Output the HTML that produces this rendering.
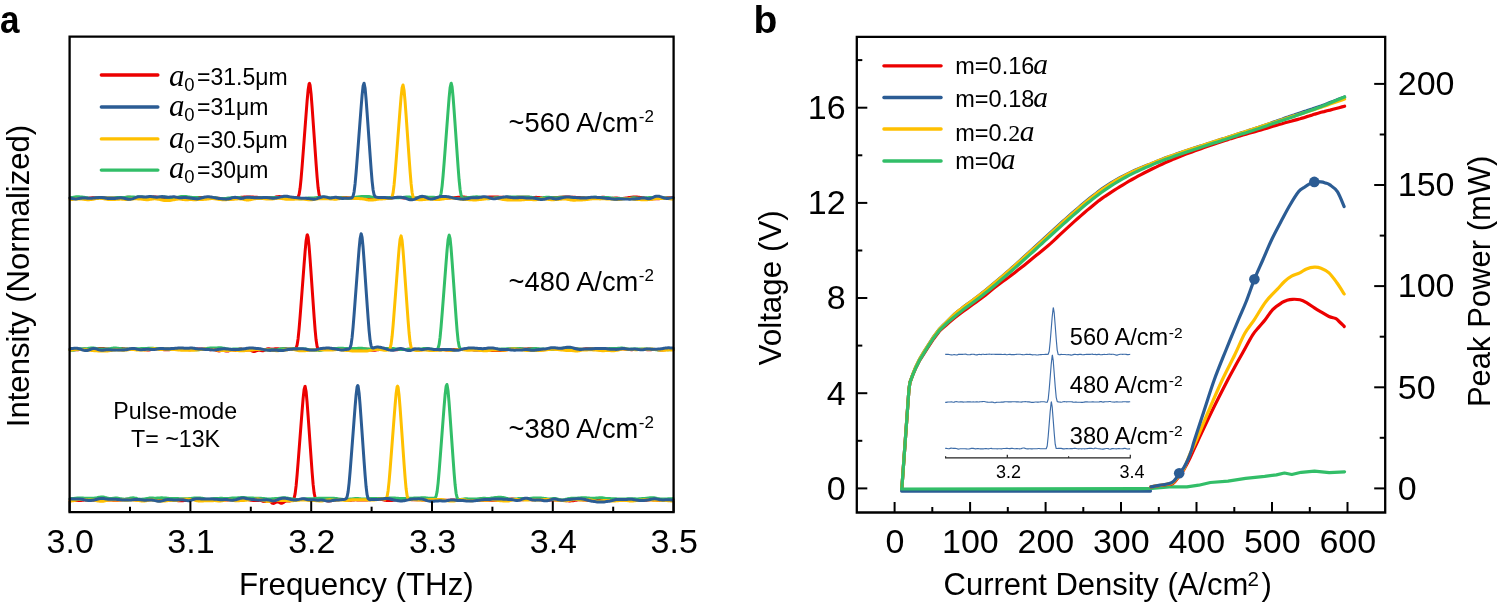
<!DOCTYPE html>
<html><head><meta charset="utf-8"><style>
html,body{margin:0;padding:0;background:#fff;}
body{width:1500px;height:605px;overflow:hidden;position:relative;}
svg text{font-family:"Liberation Sans",sans-serif;fill:#000;}
svg .si{font-family:"Liberation Serif",serif;font-style:italic;}
svg .sr{font-family:"Liberation Serif",serif;}
svg{will-change:transform;}
</style></head><body>
<svg width="1500" height="605" viewBox="0 0 1500 605" style="position:absolute;left:0;top:0">
<rect width="1500" height="605" fill="#fff"/>
<polyline points="70.1,197.9 71.1,197.9 72.1,197.9 73.1,198.0 74.1,198.0 75.1,198.1 76.1,198.2 77.1,198.3 78.1,198.3 79.1,198.4 80.1,198.4 81.1,198.4 82.1,198.4 83.1,198.4 84.1,198.4 85.1,198.4 86.1,198.4 87.1,198.3 88.1,198.3 89.1,198.2 90.1,198.0 91.1,197.9 92.1,197.8 93.1,197.8 94.1,197.7 95.1,197.7 96.1,197.7 97.1,197.7 98.1,197.6 99.1,197.6 100.1,197.6 101.1,197.7 102.1,197.7 103.1,197.8 104.1,198.0 105.1,198.0 106.1,198.1 107.1,198.1 108.1,198.1 109.1,198.1 110.1,198.1 111.1,198.0 112.1,197.9 113.1,197.9 114.1,197.9 115.1,198.0 116.1,198.0 117.1,198.1 118.1,198.2 119.1,198.3 120.1,198.3 121.1,198.3 122.1,198.2 123.1,198.1 124.1,197.9 125.1,197.7 126.1,197.5 127.1,197.3 128.1,197.2 129.1,197.2 130.1,197.3 131.1,197.4 132.1,197.6 133.1,197.8 134.1,197.9 135.1,198.0 136.1,198.0 137.1,198.1 138.1,198.1 139.1,198.0 140.1,198.0 141.1,197.9 142.1,197.9 143.1,197.8 144.1,197.8 145.1,197.7 146.1,197.7 147.1,197.7 148.1,197.6 149.1,197.6 150.1,197.5 151.1,197.3 152.1,197.2 153.1,197.1 154.1,197.0 155.1,197.0 156.1,197.1 157.1,197.2 158.1,197.3 159.1,197.5 160.1,197.7 161.1,197.8 162.1,198.0 163.1,198.1 164.1,198.1 165.1,198.1 166.1,198.1 167.1,198.0 168.1,198.0 169.1,197.9 170.1,197.8 171.1,197.7 172.1,197.7 173.1,197.7 174.1,197.7 175.1,197.7 176.1,197.8 177.1,197.8 178.1,197.8 179.1,197.8 180.1,197.7 181.1,197.6 182.1,197.6 183.1,197.5 184.1,197.5 185.1,197.5 186.1,197.5 187.1,197.5 188.1,197.6 189.1,197.6 190.1,197.6 191.1,197.6 192.1,197.6 193.1,197.5 194.1,197.5 195.1,197.5 196.1,197.5 197.1,197.5 198.1,197.5 199.1,197.5 200.1,197.5 201.1,197.5 202.1,197.5 203.1,197.5 204.1,197.6 205.1,197.6 206.1,197.7 207.1,197.7 208.1,197.8 209.1,197.8 210.1,197.9 211.1,198.0 212.1,198.0 213.1,198.1 214.1,198.2 215.1,198.2 216.1,198.3 217.1,198.3 218.1,198.3 219.1,198.3 220.1,198.4 221.1,198.5 222.1,198.5 223.1,198.6 224.1,198.7 225.1,198.8 226.1,198.8 227.1,198.8 228.1,198.8 229.1,198.8 230.1,198.8 231.1,198.8 232.1,198.8 233.1,198.7 234.1,198.6 235.1,198.4 236.1,198.2 237.1,198.0 238.1,197.8 239.1,197.6 240.1,197.4 241.1,197.3 242.1,197.2 243.1,197.2 244.1,197.1 245.1,197.1 246.1,197.1 247.1,197.1 248.1,197.0 249.1,197.0 250.1,197.0 251.1,197.0 252.1,197.1 253.1,197.1 254.1,197.2 255.1,197.2 256.1,197.2 257.1,197.3 258.1,197.4 259.1,197.5 260.1,197.6 261.1,197.8 262.1,197.9 263.1,198.0 264.1,198.1 265.1,198.1 266.1,198.0 267.1,198.0 268.1,197.9 269.1,197.8 270.1,197.8 271.1,197.8 272.1,197.7 273.1,197.6 274.1,197.5 275.1,197.3 276.1,197.0 277.1,196.8 278.1,196.7 279.1,196.6 280.1,196.6 281.1,196.8 282.1,197.0 283.1,197.2 284.1,197.4 285.1,197.7 286.1,197.8 287.1,198.0 288.1,198.1 289.1,198.2 290.1,198.2 291.1,198.2 292.1,198.2 293.1,198.1 294.1,198.0 295.1,198.0 296.1,197.9 297.1,197.8 298.1,197.0 299.1,194.4 300.1,188.3 301.1,178.5 302.1,166.5 303.1,153.5 304.1,140.4 305.1,127.2 306.1,114.0 307.1,101.2 308.1,90.1 309.1,83.8 309.5,83.4 310.1,85.3 311.1,94.1 312.1,107.0 313.1,121.1 314.1,135.4 315.1,149.7 316.1,163.8 317.1,177.0 318.1,187.8 319.1,194.5 320.1,197.5 321.1,198.4 322.1,198.5 323.1,198.6 324.1,198.6 325.1,198.5 326.1,198.5 327.1,198.5 328.1,198.4 329.1,198.4 330.1,198.4 331.1,198.4 332.1,198.3 333.1,198.3 334.1,198.2 335.1,198.1 336.1,198.1 337.1,198.0 338.1,197.9 339.1,197.8 340.1,197.8 341.1,197.7 342.1,197.6 343.1,197.6 344.1,197.6 345.1,197.6 346.1,197.6 347.1,197.7 348.1,197.8 349.1,197.9 350.1,198.0 351.1,198.1 352.1,198.1 353.1,198.1 354.1,198.1 355.1,198.1 356.1,198.1 357.1,198.1 358.1,198.0 359.1,198.0 360.1,197.9 361.1,197.8 362.1,197.8 363.1,197.9 364.1,198.0 365.1,198.1 366.1,198.3 367.1,198.5 368.1,198.6 369.1,198.7 370.1,198.7 371.1,198.6 372.1,198.5 373.1,198.4 374.1,198.2 375.1,198.1 376.1,198.0 377.1,198.0 378.1,197.9 379.1,197.9 380.1,197.9 381.1,197.9 382.1,197.9 383.1,198.0 384.1,198.1 385.1,198.2 386.1,198.2 387.1,198.3 388.1,198.3 389.1,198.3 390.1,198.2 391.1,198.1 392.1,197.9 393.1,197.7 394.1,197.6 395.1,197.5 396.1,197.4 397.1,197.4 398.1,197.5 399.1,197.5 400.1,197.6 401.1,197.8 402.1,197.8 403.1,197.9 404.1,197.9 405.1,197.9 406.1,197.8 407.1,197.7 408.1,197.7 409.1,197.7 410.1,197.8 411.1,197.9 412.1,198.0 413.1,198.1 414.1,198.2 415.1,198.2 416.1,198.1 417.1,198.0 418.1,197.9 419.1,197.7 420.1,197.6 421.1,197.5 422.1,197.5 423.1,197.5 424.1,197.6 425.1,197.6 426.1,197.7 427.1,197.7 428.1,197.7 429.1,197.8 430.1,197.8 431.1,197.8 432.1,197.9 433.1,197.9 434.1,197.9 435.1,197.9 436.1,198.0 437.1,198.1 438.1,198.2 439.1,198.2 440.1,198.3 441.1,198.4 442.1,198.4 443.1,198.5 444.1,198.5 445.1,198.4 446.1,198.4 447.1,198.3 448.1,198.1 449.1,198.0 450.1,197.9 451.1,197.8 452.1,197.8 453.1,197.7 454.1,197.7 455.1,197.6 456.1,197.5 457.1,197.4 458.1,197.3 459.1,197.3 460.1,197.2 461.1,197.1 462.1,197.1 463.1,197.1 464.1,197.1 465.1,197.2 466.1,197.3 467.1,197.4 468.1,197.5 469.1,197.6 470.1,197.7 471.1,197.8 472.1,197.9 473.1,197.9 474.1,198.0 475.1,198.0 476.1,198.0 477.1,198.0 478.1,197.9 479.1,197.9 480.1,197.9 481.1,197.8 482.1,197.8 483.1,197.7 484.1,197.7 485.1,197.6 486.1,197.5 487.1,197.3 488.1,197.2 489.1,197.1 490.1,197.1 491.1,197.0 492.1,197.0 493.1,197.0 494.1,197.0 495.1,197.0 496.1,197.0 497.1,197.1 498.1,197.1 499.1,197.2 500.1,197.2 501.1,197.3 502.1,197.3 503.1,197.3 504.1,197.4 505.1,197.5 506.1,197.6 507.1,197.7 508.1,197.8 509.1,197.9 510.1,197.9 511.1,197.9 512.1,197.8 513.1,197.7 514.1,197.6 515.1,197.5 516.1,197.4 517.1,197.3 518.1,197.3 519.1,197.3 520.1,197.3 521.1,197.3 522.1,197.3 523.1,197.3 524.1,197.2 525.1,197.3 526.1,197.3 527.1,197.3 528.1,197.3 529.1,197.3 530.1,197.4 531.1,197.4 532.1,197.4 533.1,197.4 534.1,197.4 535.1,197.4 536.1,197.3 537.1,197.4 538.1,197.4 539.1,197.5 540.1,197.7 541.1,197.8 542.1,198.0 543.1,198.1 544.1,198.2 545.1,198.1 546.1,198.1 547.1,198.0 548.1,197.8 549.1,197.7 550.1,197.6 551.1,197.6 552.1,197.6 553.1,197.6 554.1,197.6 555.1,197.5 556.1,197.5 557.1,197.4 558.1,197.4 559.1,197.3 560.1,197.3 561.1,197.2 562.1,197.2 563.1,197.1 564.1,197.0 565.1,197.0 566.1,197.0 567.1,197.0 568.1,197.0 569.1,197.1 570.1,197.2 571.1,197.2 572.1,197.2 573.1,197.3 574.1,197.3 575.1,197.3 576.1,197.4 577.1,197.4 578.1,197.5 579.1,197.5 580.1,197.6 581.1,197.7 582.1,197.7 583.1,197.8 584.1,197.8 585.1,197.9 586.1,197.9 587.1,198.0 588.1,198.0 589.1,198.1 590.1,198.1 591.1,198.1 592.1,198.2 593.1,198.2 594.1,198.2 595.1,198.2 596.1,198.1 597.1,198.0 598.1,197.9 599.1,197.7 600.1,197.5 601.1,197.4 602.1,197.3 603.1,197.2 604.1,197.3 605.1,197.4 606.1,197.7 607.1,197.9 608.1,198.1 609.1,198.3 610.1,198.4 611.1,198.4 612.1,198.3 613.1,198.2 614.1,198.2 615.1,198.1 616.1,198.1 617.1,198.1 618.1,198.2 619.1,198.3 620.1,198.4 621.1,198.4 622.1,198.4 623.1,198.4 624.1,198.3 625.1,198.2 626.1,198.0 627.1,197.9 628.1,197.7 629.1,197.5 630.1,197.4 631.1,197.3 632.1,197.2 633.1,197.1 634.1,197.0 635.1,197.0 636.1,197.0 637.1,197.1 638.1,197.2 639.1,197.3 640.1,197.5 641.1,197.6 642.1,197.7 643.1,197.8 644.1,198.0 645.1,198.2 646.1,198.4 647.1,198.5 648.1,198.7 649.1,198.8 650.1,198.9 651.1,198.9 652.1,198.9 653.1,198.8 654.1,198.8 655.1,198.8 656.1,198.8 657.1,198.8 658.1,198.8 659.1,198.7 660.1,198.6 661.1,198.6 662.1,198.5 663.1,198.3 664.1,198.2 665.1,198.1 666.1,198.0 667.1,197.8 668.1,197.8 669.1,197.7 670.1,197.7 671.1,197.7 672.1,197.8 673.1,197.9" fill="none" stroke="#ec0000" stroke-width="3" stroke-linejoin="round" stroke-linecap="round"/>
<polyline points="70.1,197.6 71.1,197.6 72.1,197.4 73.1,197.3 74.1,197.1 75.1,196.9 76.1,196.8 77.1,196.8 78.1,196.8 79.1,196.8 80.1,196.9 81.1,197.0 82.1,197.1 83.1,197.2 84.1,197.3 85.1,197.4 86.1,197.6 87.1,197.8 88.1,198.1 89.1,198.3 90.1,198.4 91.1,198.5 92.1,198.5 93.1,198.4 94.1,198.3 95.1,198.1 96.1,198.0 97.1,197.8 98.1,197.7 99.1,197.7 100.1,197.7 101.1,197.7 102.1,197.8 103.1,197.9 104.1,197.9 105.1,198.0 106.1,198.0 107.1,198.0 108.1,198.0 109.1,198.0 110.1,198.0 111.1,198.0 112.1,198.0 113.1,197.9 114.1,197.9 115.1,197.8 116.1,197.7 117.1,197.6 118.1,197.6 119.1,197.6 120.1,197.6 121.1,197.6 122.1,197.6 123.1,197.6 124.1,197.6 125.1,197.5 126.1,197.3 127.1,197.2 128.1,197.0 129.1,196.9 130.1,196.9 131.1,196.9 132.1,196.9 133.1,197.0 134.1,197.1 135.1,197.2 136.1,197.2 137.1,197.1 138.1,197.1 139.1,197.0 140.1,196.9 141.1,196.9 142.1,196.9 143.1,197.0 144.1,197.2 145.1,197.4 146.1,197.6 147.1,197.8 148.1,197.9 149.1,198.0 150.1,198.1 151.1,198.1 152.1,198.0 153.1,197.9 154.1,197.8 155.1,197.7 156.1,197.5 157.1,197.5 158.1,197.4 159.1,197.3 160.1,197.2 161.1,197.2 162.1,197.1 163.1,197.1 164.1,197.1 165.1,197.1 166.1,197.2 167.1,197.3 168.1,197.5 169.1,197.6 170.1,197.7 171.1,197.8 172.1,197.9 173.1,197.8 174.1,197.7 175.1,197.6 176.1,197.4 177.1,197.3 178.1,197.1 179.1,196.9 180.1,196.7 181.1,196.6 182.1,196.5 183.1,196.5 184.1,196.4 185.1,196.5 186.1,196.6 187.1,196.7 188.1,196.9 189.1,197.0 190.1,197.2 191.1,197.3 192.1,197.4 193.1,197.4 194.1,197.5 195.1,197.5 196.1,197.5 197.1,197.6 198.1,197.7 199.1,197.9 200.1,198.0 201.1,198.1 202.1,198.2 203.1,198.3 204.1,198.3 205.1,198.3 206.1,198.3 207.1,198.3 208.1,198.2 209.1,198.0 210.1,197.9 211.1,197.8 212.1,197.7 213.1,197.7 214.1,197.8 215.1,197.8 216.1,198.0 217.1,198.1 218.1,198.2 219.1,198.4 220.1,198.5 221.1,198.6 222.1,198.6 223.1,198.6 224.1,198.5 225.1,198.5 226.1,198.4 227.1,198.2 228.1,198.1 229.1,198.0 230.1,197.9 231.1,197.8 232.1,197.7 233.1,197.6 234.1,197.6 235.1,197.5 236.1,197.5 237.1,197.5 238.1,197.5 239.1,197.5 240.1,197.6 241.1,197.7 242.1,197.9 243.1,198.1 244.1,198.3 245.1,198.4 246.1,198.6 247.1,198.7 248.1,198.7 249.1,198.6 250.1,198.6 251.1,198.5 252.1,198.4 253.1,198.3 254.1,198.3 255.1,198.2 256.1,198.2 257.1,198.1 258.1,198.0 259.1,198.0 260.1,197.9 261.1,197.8 262.1,197.7 263.1,197.7 264.1,197.7 265.1,197.7 266.1,197.8 267.1,197.8 268.1,197.8 269.1,197.8 270.1,197.8 271.1,197.7 272.1,197.7 273.1,197.6 274.1,197.6 275.1,197.6 276.1,197.6 277.1,197.6 278.1,197.6 279.1,197.7 280.1,197.7 281.1,197.8 282.1,197.9 283.1,197.9 284.1,197.9 285.1,197.9 286.1,197.9 287.1,197.8 288.1,197.7 289.1,197.6 290.1,197.6 291.1,197.6 292.1,197.6 293.1,197.7 294.1,197.9 295.1,198.0 296.1,198.2 297.1,198.4 298.1,198.6 299.1,198.7 300.1,198.7 301.1,198.7 302.1,198.7 303.1,198.6 304.1,198.5 305.1,198.4 306.1,198.3 307.1,198.2 308.1,198.1 309.1,198.1 310.1,198.1 311.1,198.1 312.1,198.1 313.1,198.0 314.1,197.9 315.1,197.8 316.1,197.7 317.1,197.6 318.1,197.5 319.1,197.4 320.1,197.3 321.1,197.2 322.1,197.2 323.1,197.2 324.1,197.2 325.1,197.2 326.1,197.3 327.1,197.5 328.1,197.7 329.1,197.8 330.1,198.0 331.1,198.0 332.1,198.1 333.1,198.1 334.1,198.0 335.1,198.0 336.1,197.9 337.1,197.8 338.1,197.8 339.1,197.7 340.1,197.7 341.1,197.7 342.1,197.8 343.1,197.9 344.1,198.0 345.1,198.1 346.1,198.2 347.1,198.4 348.1,198.4 349.1,198.5 350.1,198.4 351.1,198.3 352.1,198.1 353.1,197.9 354.1,197.7 355.1,197.5 356.1,197.2 357.1,197.0 358.1,196.9 359.1,196.8 360.1,196.7 361.1,196.6 362.1,196.6 363.1,196.6 364.1,196.5 365.1,196.5 366.1,196.4 367.1,196.4 368.1,196.5 369.1,196.6 370.1,196.7 371.1,196.9 372.1,197.1 373.1,197.3 374.1,197.4 375.1,197.6 376.1,197.8 377.1,197.9 378.1,198.0 379.1,198.0 380.1,198.1 381.1,198.0 382.1,198.0 383.1,198.0 384.1,197.9 385.1,197.9 386.1,197.8 387.1,197.7 388.1,197.7 389.1,197.6 390.1,197.5 391.1,197.5 392.1,197.5 393.1,197.6 394.1,197.6 395.1,197.7 396.1,197.7 397.1,197.8 398.1,197.7 399.1,197.7 400.1,197.6 401.1,197.6 402.1,197.5 403.1,197.4 404.1,197.3 405.1,197.2 406.1,197.1 407.1,197.0 408.1,197.0 409.1,197.0 410.1,197.1 411.1,197.3 412.1,197.6 413.1,197.8 414.1,197.9 415.1,198.0 416.1,198.0 417.1,197.9 418.1,197.7 419.1,197.5 420.1,197.3 421.1,197.2 422.1,197.0 423.1,197.0 424.1,196.9 425.1,197.0 426.1,197.0 427.1,197.1 428.1,197.2 429.1,197.3 430.1,197.3 431.1,197.3 432.1,197.3 433.1,197.3 434.1,197.3 435.1,197.4 436.1,197.5 437.1,197.6 438.1,197.8 439.1,197.7 440.1,196.7 441.1,193.3 442.1,186.1 443.1,175.5 444.1,163.1 445.1,150.1 446.1,136.9 447.1,123.7 448.1,110.5 449.1,97.9 450.1,87.7 451.1,83.4 451.2,83.2 452.1,86.9 453.1,97.1 454.1,110.4 455.1,124.5 456.1,138.9 457.1,153.2 458.1,167.2 459.1,180.0 460.1,189.7 461.1,195.2 462.1,197.3 463.1,197.8 464.1,197.9 465.1,197.8 466.1,197.8 467.1,197.7 468.1,197.6 469.1,197.5 470.1,197.4 471.1,197.3 472.1,197.2 473.1,197.1 474.1,197.0 475.1,196.9 476.1,196.8 477.1,196.8 478.1,196.9 479.1,197.0 480.1,197.1 481.1,197.3 482.1,197.5 483.1,197.8 484.1,198.0 485.1,198.3 486.1,198.5 487.1,198.6 488.1,198.7 489.1,198.7 490.1,198.6 491.1,198.5 492.1,198.3 493.1,198.1 494.1,197.9 495.1,197.8 496.1,197.7 497.1,197.7 498.1,197.7 499.1,197.8 500.1,197.8 501.1,197.8 502.1,197.8 503.1,197.7 504.1,197.6 505.1,197.5 506.1,197.3 507.1,197.2 508.1,197.1 509.1,197.1 510.1,197.1 511.1,197.1 512.1,197.1 513.1,197.1 514.1,197.1 515.1,197.1 516.1,197.0 517.1,197.0 518.1,196.9 519.1,196.9 520.1,196.9 521.1,196.9 522.1,197.0 523.1,197.0 524.1,197.0 525.1,197.0 526.1,197.0 527.1,197.0 528.1,197.0 529.1,197.1 530.1,197.2 531.1,197.3 532.1,197.5 533.1,197.7 534.1,198.0 535.1,198.2 536.1,198.3 537.1,198.5 538.1,198.5 539.1,198.5 540.1,198.4 541.1,198.2 542.1,198.0 543.1,197.8 544.1,197.5 545.1,197.4 546.1,197.3 547.1,197.2 548.1,197.2 549.1,197.3 550.1,197.4 551.1,197.5 552.1,197.6 553.1,197.7 554.1,197.8 555.1,197.8 556.1,197.8 557.1,197.7 558.1,197.7 559.1,197.6 560.1,197.4 561.1,197.3 562.1,197.2 563.1,197.2 564.1,197.2 565.1,197.3 566.1,197.4 567.1,197.5 568.1,197.6 569.1,197.7 570.1,197.9 571.1,198.0 572.1,198.1 573.1,198.3 574.1,198.4 575.1,198.5 576.1,198.6 577.1,198.5 578.1,198.4 579.1,198.3 580.1,198.2 581.1,198.0 582.1,198.0 583.1,197.9 584.1,197.9 585.1,198.0 586.1,198.0 587.1,198.1 588.1,198.1 589.1,198.0 590.1,197.9 591.1,197.8 592.1,197.6 593.1,197.4 594.1,197.3 595.1,197.3 596.1,197.3 597.1,197.4 598.1,197.5 599.1,197.5 600.1,197.6 601.1,197.6 602.1,197.6 603.1,197.6 604.1,197.6 605.1,197.6 606.1,197.6 607.1,197.6 608.1,197.6 609.1,197.7 610.1,197.8 611.1,197.9 612.1,198.1 613.1,198.2 614.1,198.3 615.1,198.4 616.1,198.5 617.1,198.5 618.1,198.5 619.1,198.5 620.1,198.5 621.1,198.4 622.1,198.4 623.1,198.4 624.1,198.4 625.1,198.4 626.1,198.4 627.1,198.4 628.1,198.4 629.1,198.4 630.1,198.3 631.1,198.1 632.1,198.0 633.1,197.8 634.1,197.8 635.1,197.8 636.1,197.9 637.1,198.0 638.1,198.2 639.1,198.3 640.1,198.3 641.1,198.3 642.1,198.2 643.1,198.1 644.1,198.0 645.1,197.9 646.1,197.8 647.1,197.7 648.1,197.7 649.1,197.6 650.1,197.6 651.1,197.6 652.1,197.7 653.1,197.7 654.1,197.7 655.1,197.7 656.1,197.6 657.1,197.6 658.1,197.5 659.1,197.4 660.1,197.4 661.1,197.5 662.1,197.5 663.1,197.6 664.1,197.8 665.1,197.9 666.1,198.0 667.1,198.1 668.1,198.2 669.1,198.3 670.1,198.3 671.1,198.4 672.1,198.5 673.1,198.5" fill="none" stroke="#32be68" stroke-width="3" stroke-linejoin="round" stroke-linecap="round"/>
<polyline points="70.1,199.6 71.1,199.5 72.1,199.4 73.1,199.3 74.1,199.1 75.1,199.0 76.1,199.0 77.1,198.9 78.1,198.9 79.1,198.9 80.1,199.0 81.1,199.0 82.1,199.1 83.1,199.2 84.1,199.3 85.1,199.5 86.1,199.6 87.1,199.7 88.1,199.7 89.1,199.7 90.1,199.6 91.1,199.5 92.1,199.4 93.1,199.2 94.1,199.0 95.1,198.8 96.1,198.6 97.1,198.5 98.1,198.4 99.1,198.3 100.1,198.3 101.1,198.4 102.1,198.5 103.1,198.6 104.1,198.8 105.1,199.0 106.1,199.1 107.1,199.3 108.1,199.4 109.1,199.5 110.1,199.5 111.1,199.5 112.1,199.5 113.1,199.4 114.1,199.4 115.1,199.4 116.1,199.3 117.1,199.3 118.1,199.2 119.1,199.2 120.1,199.1 121.1,199.1 122.1,199.2 123.1,199.2 124.1,199.3 125.1,199.4 126.1,199.5 127.1,199.5 128.1,199.4 129.1,199.3 130.1,199.2 131.1,199.0 132.1,198.9 133.1,198.9 134.1,198.8 135.1,198.8 136.1,198.8 137.1,198.8 138.1,198.9 139.1,198.9 140.1,199.0 141.1,199.1 142.1,199.2 143.1,199.3 144.1,199.5 145.1,199.6 146.1,199.7 147.1,199.7 148.1,199.7 149.1,199.6 150.1,199.4 151.1,199.2 152.1,199.0 153.1,198.9 154.1,198.8 155.1,198.8 156.1,198.9 157.1,199.0 158.1,199.2 159.1,199.4 160.1,199.6 161.1,199.9 162.1,200.1 163.1,200.3 164.1,200.4 165.1,200.5 166.1,200.5 167.1,200.5 168.1,200.5 169.1,200.4 170.1,200.4 171.1,200.3 172.1,200.1 173.1,199.9 174.1,199.7 175.1,199.5 176.1,199.3 177.1,199.2 178.1,199.1 179.1,199.1 180.1,199.1 181.1,199.2 182.1,199.4 183.1,199.5 184.1,199.6 185.1,199.7 186.1,199.7 187.1,199.7 188.1,199.7 189.1,199.6 190.1,199.6 191.1,199.6 192.1,199.6 193.1,199.7 194.1,199.7 195.1,199.7 196.1,199.7 197.1,199.6 198.1,199.6 199.1,199.6 200.1,199.5 201.1,199.5 202.1,199.4 203.1,199.4 204.1,199.3 205.1,199.3 206.1,199.2 207.1,199.1 208.1,199.0 209.1,198.8 210.1,198.7 211.1,198.6 212.1,198.6 213.1,198.6 214.1,198.7 215.1,198.8 216.1,198.9 217.1,199.1 218.1,199.3 219.1,199.4 220.1,199.5 221.1,199.6 222.1,199.7 223.1,199.7 224.1,199.7 225.1,199.7 226.1,199.7 227.1,199.6 228.1,199.6 229.1,199.5 230.1,199.5 231.1,199.4 232.1,199.3 233.1,199.3 234.1,199.2 235.1,199.1 236.1,199.0 237.1,198.9 238.1,198.8 239.1,198.8 240.1,198.9 241.1,199.0 242.1,199.1 243.1,199.3 244.1,199.5 245.1,199.7 246.1,199.9 247.1,199.9 248.1,199.9 249.1,199.9 250.1,199.7 251.1,199.5 252.1,199.3 253.1,199.1 254.1,198.8 255.1,198.7 256.1,198.5 257.1,198.4 258.1,198.4 259.1,198.3 260.1,198.4 261.1,198.4 262.1,198.5 263.1,198.6 264.1,198.7 265.1,198.8 266.1,198.9 267.1,199.0 268.1,199.0 269.1,199.1 270.1,199.1 271.1,199.0 272.1,199.0 273.1,198.9 274.1,198.7 275.1,198.5 276.1,198.4 277.1,198.3 278.1,198.2 279.1,198.2 280.1,198.3 281.1,198.4 282.1,198.5 283.1,198.7 284.1,198.9 285.1,199.0 286.1,199.2 287.1,199.2 288.1,199.3 289.1,199.3 290.1,199.3 291.1,199.2 292.1,199.2 293.1,199.2 294.1,199.2 295.1,199.1 296.1,199.1 297.1,199.1 298.1,199.1 299.1,199.0 300.1,199.0 301.1,199.0 302.1,199.1 303.1,199.1 304.1,199.2 305.1,199.3 306.1,199.4 307.1,199.6 308.1,199.7 309.1,199.8 310.1,199.8 311.1,199.8 312.1,199.7 313.1,199.6 314.1,199.4 315.1,199.2 316.1,199.0 317.1,198.9 318.1,198.8 319.1,198.7 320.1,198.7 321.1,198.7 322.1,198.7 323.1,198.7 324.1,198.7 325.1,198.7 326.1,198.7 327.1,198.7 328.1,198.7 329.1,198.8 330.1,198.9 331.1,198.9 332.1,199.0 333.1,199.1 334.1,199.2 335.1,199.2 336.1,199.2 337.1,199.1 338.1,198.9 339.1,198.7 340.1,198.5 341.1,198.4 342.1,198.3 343.1,198.2 344.1,198.1 345.1,198.1 346.1,198.1 347.1,198.1 348.1,198.1 349.1,198.1 350.1,198.1 351.1,198.1 352.1,198.2 353.1,198.2 354.1,198.3 355.1,198.4 356.1,198.5 357.1,198.6 358.1,198.6 359.1,198.6 360.1,198.7 361.1,198.7 362.1,198.8 363.1,198.9 364.1,199.1 365.1,199.3 366.1,199.5 367.1,199.7 368.1,199.9 369.1,200.0 370.1,200.1 371.1,200.1 372.1,200.0 373.1,199.9 374.1,199.8 375.1,199.7 376.1,199.5 377.1,199.3 378.1,199.2 379.1,199.1 380.1,199.0 381.1,198.9 382.1,198.9 383.1,198.8 384.1,198.7 385.1,198.7 386.1,198.6 387.1,198.6 388.1,198.6 389.1,198.6 390.1,198.6 391.1,198.3 392.1,196.9 393.1,192.7 394.1,184.7 395.1,173.6 396.1,161.0 397.1,148.0 398.1,134.9 399.1,121.8 400.1,108.9 401.1,96.8 402.1,87.7 403.0,85.0 403.1,85.2 404.1,90.6 405.1,101.8 406.1,115.4 407.1,129.6 408.1,143.8 409.1,158.0 410.1,171.6 411.1,183.7 412.1,192.5 413.1,197.1 414.1,198.8 415.1,199.2 416.1,199.4 417.1,199.5 418.1,199.6 419.1,199.7 420.1,199.8 421.1,199.8 422.1,199.7 423.1,199.6 424.1,199.5 425.1,199.4 426.1,199.3 427.1,199.2 428.1,199.2 429.1,199.1 430.1,199.1 431.1,199.1 432.1,199.1 433.1,199.2 434.1,199.3 435.1,199.4 436.1,199.4 437.1,199.5 438.1,199.5 439.1,199.4 440.1,199.4 441.1,199.2 442.1,199.1 443.1,198.9 444.1,198.8 445.1,198.6 446.1,198.5 447.1,198.3 448.1,198.2 449.1,198.1 450.1,198.1 451.1,198.1 452.1,198.1 453.1,198.1 454.1,198.2 455.1,198.3 456.1,198.4 457.1,198.5 458.1,198.6 459.1,198.7 460.1,198.9 461.1,199.0 462.1,199.2 463.1,199.3 464.1,199.4 465.1,199.5 466.1,199.6 467.1,199.6 468.1,199.6 469.1,199.7 470.1,199.7 471.1,199.8 472.1,199.8 473.1,199.9 474.1,199.9 475.1,199.9 476.1,199.9 477.1,199.8 478.1,199.7 479.1,199.6 480.1,199.5 481.1,199.4 482.1,199.3 483.1,199.2 484.1,199.1 485.1,198.9 486.1,198.8 487.1,198.7 488.1,198.6 489.1,198.6 490.1,198.5 491.1,198.5 492.1,198.5 493.1,198.6 494.1,198.6 495.1,198.6 496.1,198.6 497.1,198.6 498.1,198.6 499.1,198.7 500.1,198.9 501.1,199.1 502.1,199.3 503.1,199.5 504.1,199.6 505.1,199.7 506.1,199.8 507.1,199.9 508.1,199.9 509.1,200.0 510.1,200.0 511.1,200.1 512.1,200.1 513.1,200.1 514.1,200.1 515.1,200.1 516.1,200.0 517.1,200.0 518.1,200.0 519.1,199.9 520.1,199.9 521.1,199.9 522.1,199.8 523.1,199.8 524.1,199.7 525.1,199.6 526.1,199.5 527.1,199.5 528.1,199.5 529.1,199.5 530.1,199.5 531.1,199.6 532.1,199.6 533.1,199.7 534.1,199.7 535.1,199.7 536.1,199.7 537.1,199.6 538.1,199.5 539.1,199.3 540.1,199.2 541.1,199.0 542.1,198.9 543.1,198.9 544.1,198.9 545.1,198.9 546.1,199.0 547.1,199.2 548.1,199.3 549.1,199.5 550.1,199.6 551.1,199.7 552.1,199.7 553.1,199.7 554.1,199.7 555.1,199.6 556.1,199.5 557.1,199.5 558.1,199.4 559.1,199.3 560.1,199.3 561.1,199.2 562.1,199.1 563.1,199.1 564.1,199.0 565.1,199.1 566.1,199.1 567.1,199.3 568.1,199.4 569.1,199.6 570.1,199.8 571.1,200.0 572.1,200.1 573.1,200.2 574.1,200.2 575.1,200.2 576.1,200.1 577.1,200.1 578.1,200.1 579.1,200.0 580.1,200.0 581.1,199.9 582.1,199.9 583.1,199.8 584.1,199.7 585.1,199.7 586.1,199.6 587.1,199.5 588.1,199.4 589.1,199.2 590.1,199.1 591.1,199.0 592.1,198.8 593.1,198.8 594.1,198.7 595.1,198.7 596.1,198.7 597.1,198.8 598.1,198.8 599.1,198.8 600.1,198.9 601.1,198.8 602.1,198.8 603.1,198.8 604.1,198.8 605.1,198.8 606.1,198.9 607.1,198.9 608.1,198.9 609.1,199.0 610.1,199.0 611.1,199.1 612.1,199.1 613.1,199.2 614.1,199.2 615.1,199.3 616.1,199.4 617.1,199.4 618.1,199.4 619.1,199.4 620.1,199.3 621.1,199.2 622.1,199.1 623.1,198.9 624.1,198.7 625.1,198.5 626.1,198.4 627.1,198.4 628.1,198.4 629.1,198.5 630.1,198.6 631.1,198.7 632.1,198.9 633.1,199.1 634.1,199.2 635.1,199.3 636.1,199.4 637.1,199.5 638.1,199.5 639.1,199.6 640.1,199.6 641.1,199.7 642.1,199.8 643.1,199.8 644.1,199.8 645.1,199.8 646.1,199.8 647.1,199.7 648.1,199.6 649.1,199.5 650.1,199.4 651.1,199.3 652.1,199.2 653.1,199.0 654.1,198.9 655.1,198.7 656.1,198.6 657.1,198.6 658.1,198.6 659.1,198.6 660.1,198.6 661.1,198.6 662.1,198.6 663.1,198.6 664.1,198.6 665.1,198.6 666.1,198.6 667.1,198.6 668.1,198.6 669.1,198.7 670.1,198.8 671.1,199.0 672.1,199.1 673.1,199.2" fill="none" stroke="#ffc000" stroke-width="3" stroke-linejoin="round" stroke-linecap="round"/>
<polyline points="70.1,198.0 71.1,198.3 72.1,198.5 73.1,198.7 74.1,198.8 75.1,198.9 76.1,198.9 77.1,198.8 78.1,198.6 79.1,198.4 80.1,198.3 81.1,198.2 82.1,198.1 83.1,198.1 84.1,198.1 85.1,198.1 86.1,198.1 87.1,198.2 88.1,198.2 89.1,198.2 90.1,198.2 91.1,198.2 92.1,198.2 93.1,198.1 94.1,198.0 95.1,197.9 96.1,197.8 97.1,197.7 98.1,197.7 99.1,197.6 100.1,197.6 101.1,197.5 102.1,197.6 103.1,197.7 104.1,197.8 105.1,198.0 106.1,198.2 107.1,198.4 108.1,198.5 109.1,198.6 110.1,198.6 111.1,198.6 112.1,198.6 113.1,198.6 114.1,198.5 115.1,198.4 116.1,198.3 117.1,198.2 118.1,198.0 119.1,197.9 120.1,197.8 121.1,197.8 122.1,197.9 123.1,198.1 124.1,198.3 125.1,198.5 126.1,198.8 127.1,199.0 128.1,199.2 129.1,199.3 130.1,199.3 131.1,199.1 132.1,198.9 133.1,198.6 134.1,198.2 135.1,197.8 136.1,197.4 137.1,197.1 138.1,196.8 139.1,196.7 140.1,196.7 141.1,196.7 142.1,196.8 143.1,196.9 144.1,197.0 145.1,197.0 146.1,196.9 147.1,196.8 148.1,196.7 149.1,196.6 150.1,196.6 151.1,196.6 152.1,196.7 153.1,196.8 154.1,197.0 155.1,197.1 156.1,197.2 157.1,197.2 158.1,197.1 159.1,196.9 160.1,196.8 161.1,196.7 162.1,196.6 163.1,196.7 164.1,196.8 165.1,197.0 166.1,197.1 167.1,197.2 168.1,197.3 169.1,197.2 170.1,197.1 171.1,197.0 172.1,196.9 173.1,196.8 174.1,196.8 175.1,197.0 176.1,197.2 177.1,197.4 178.1,197.6 179.1,197.7 180.1,197.8 181.1,197.7 182.1,197.7 183.1,197.6 184.1,197.6 185.1,197.6 186.1,197.6 187.1,197.7 188.1,197.8 189.1,197.9 190.1,198.0 191.1,198.2 192.1,198.3 193.1,198.5 194.1,198.6 195.1,198.7 196.1,198.8 197.1,198.9 198.1,198.8 199.1,198.6 200.1,198.4 201.1,198.1 202.1,197.8 203.1,197.5 204.1,197.2 205.1,197.0 206.1,196.9 207.1,196.8 208.1,196.8 209.1,196.8 210.1,196.9 211.1,197.0 212.1,197.2 213.1,197.4 214.1,197.6 215.1,197.8 216.1,198.0 217.1,198.2 218.1,198.4 219.1,198.5 220.1,198.6 221.1,198.7 222.1,198.8 223.1,199.0 224.1,199.1 225.1,199.1 226.1,199.2 227.1,199.1 228.1,199.0 229.1,198.8 230.1,198.5 231.1,198.2 232.1,197.8 233.1,197.6 234.1,197.4 235.1,197.3 236.1,197.4 237.1,197.6 238.1,197.9 239.1,198.1 240.1,198.3 241.1,198.4 242.1,198.3 243.1,198.2 244.1,197.9 245.1,197.6 246.1,197.4 247.1,197.2 248.1,197.2 249.1,197.2 250.1,197.3 251.1,197.4 252.1,197.5 253.1,197.6 254.1,197.7 255.1,197.7 256.1,197.8 257.1,197.8 258.1,197.8 259.1,197.8 260.1,197.8 261.1,197.7 262.1,197.7 263.1,197.6 264.1,197.5 265.1,197.5 266.1,197.5 267.1,197.6 268.1,197.7 269.1,197.8 270.1,198.0 271.1,198.1 272.1,198.2 273.1,198.2 274.1,198.2 275.1,198.1 276.1,197.9 277.1,197.8 278.1,197.6 279.1,197.4 280.1,197.1 281.1,196.9 282.1,196.7 283.1,196.5 284.1,196.3 285.1,196.2 286.1,196.2 287.1,196.3 288.1,196.5 289.1,196.7 290.1,196.9 291.1,197.1 292.1,197.2 293.1,197.3 294.1,197.4 295.1,197.5 296.1,197.6 297.1,197.7 298.1,197.8 299.1,198.0 300.1,198.1 301.1,198.2 302.1,198.2 303.1,198.3 304.1,198.3 305.1,198.3 306.1,198.3 307.1,198.4 308.1,198.5 309.1,198.6 310.1,198.8 311.1,198.9 312.1,199.1 313.1,199.2 314.1,199.2 315.1,199.1 316.1,198.9 317.1,198.6 318.1,198.2 319.1,197.8 320.1,197.5 321.1,197.2 322.1,197.0 323.1,196.8 324.1,196.8 325.1,196.9 326.1,197.1 327.1,197.3 328.1,197.6 329.1,197.9 330.1,198.0 331.1,198.0 332.1,197.8 333.1,197.6 334.1,197.4 335.1,197.3 336.1,197.3 337.1,197.5 338.1,197.7 339.1,198.0 340.1,198.2 341.1,198.3 342.1,198.4 343.1,198.4 344.1,198.3 345.1,198.3 346.1,198.3 347.1,198.2 348.1,198.2 349.1,198.2 350.1,198.1 351.1,198.0 352.1,197.6 353.1,196.1 354.1,191.8 355.1,183.7 356.1,172.5 357.1,159.9 358.1,146.8 359.1,133.7 360.1,120.5 361.1,107.5 362.1,95.2 363.1,86.0 364.0,83.2 364.1,83.2 365.1,88.4 366.1,99.4 367.1,112.9 368.1,126.9 369.1,141.1 370.1,155.2 371.1,168.9 372.1,181.1 373.1,190.0 374.1,194.8 375.1,196.6 376.1,197.1 377.1,197.3 378.1,197.4 379.1,197.5 380.1,197.5 381.1,197.5 382.1,197.5 383.1,197.5 384.1,197.5 385.1,197.6 386.1,197.7 387.1,197.8 388.1,197.9 389.1,198.1 390.1,198.1 391.1,198.1 392.1,198.0 393.1,197.9 394.1,197.7 395.1,197.5 396.1,197.4 397.1,197.3 398.1,197.3 399.1,197.3 400.1,197.3 401.1,197.3 402.1,197.4 403.1,197.5 404.1,197.7 405.1,198.0 406.1,198.4 407.1,198.8 408.1,199.2 409.1,199.5 410.1,199.7 411.1,199.8 412.1,199.8 413.1,199.6 414.1,199.4 415.1,199.0 416.1,198.5 417.1,198.1 418.1,197.6 419.1,197.1 420.1,196.7 421.1,196.4 422.1,196.3 423.1,196.4 424.1,196.6 425.1,197.0 426.1,197.4 427.1,197.9 428.1,198.3 429.1,198.7 430.1,198.9 431.1,199.0 432.1,199.0 433.1,198.8 434.1,198.6 435.1,198.3 436.1,197.9 437.1,197.5 438.1,197.2 439.1,196.9 440.1,196.7 441.1,196.5 442.1,196.5 443.1,196.5 444.1,196.5 445.1,196.6 446.1,196.6 447.1,196.7 448.1,196.8 449.1,197.0 450.1,197.2 451.1,197.4 452.1,197.6 453.1,197.9 454.1,198.1 455.1,198.3 456.1,198.4 457.1,198.6 458.1,198.7 459.1,198.8 460.1,198.9 461.1,199.0 462.1,199.1 463.1,199.2 464.1,199.1 465.1,199.1 466.1,198.9 467.1,198.7 468.1,198.5 469.1,198.2 470.1,198.0 471.1,197.8 472.1,197.7 473.1,197.7 474.1,197.7 475.1,197.7 476.1,197.8 477.1,197.8 478.1,197.7 479.1,197.6 480.1,197.4 481.1,197.2 482.1,197.0 483.1,196.8 484.1,196.8 485.1,196.8 486.1,196.9 487.1,197.1 488.1,197.3 489.1,197.7 490.1,198.0 491.1,198.3 492.1,198.6 493.1,198.7 494.1,198.8 495.1,198.7 496.1,198.6 497.1,198.4 498.1,198.2 499.1,198.0 500.1,197.8 501.1,197.6 502.1,197.4 503.1,197.2 504.1,197.0 505.1,196.9 506.1,196.8 507.1,196.8 508.1,196.9 509.1,197.1 510.1,197.3 511.1,197.5 512.1,197.6 513.1,197.7 514.1,197.8 515.1,197.8 516.1,197.8 517.1,197.7 518.1,197.7 519.1,197.6 520.1,197.6 521.1,197.5 522.1,197.6 523.1,197.6 524.1,197.7 525.1,197.8 526.1,197.9 527.1,198.0 528.1,198.0 529.1,198.0 530.1,198.0 531.1,198.0 532.1,198.0 533.1,198.0 534.1,198.2 535.1,198.3 536.1,198.6 537.1,198.8 538.1,199.1 539.1,199.2 540.1,199.4 541.1,199.4 542.1,199.4 543.1,199.3 544.1,199.2 545.1,199.0 546.1,198.7 547.1,198.4 548.1,198.2 549.1,198.0 550.1,198.0 551.1,198.0 552.1,198.2 553.1,198.5 554.1,198.7 555.1,198.9 556.1,198.9 557.1,198.9 558.1,198.7 559.1,198.5 560.1,198.3 561.1,198.0 562.1,197.8 563.1,197.6 564.1,197.4 565.1,197.2 566.1,197.1 567.1,197.0 568.1,197.0 569.1,197.0 570.1,197.1 571.1,197.2 572.1,197.3 573.1,197.4 574.1,197.5 575.1,197.6 576.1,197.6 577.1,197.7 578.1,197.7 579.1,197.8 580.1,197.9 581.1,198.0 582.1,198.1 583.1,198.1 584.1,198.1 585.1,198.1 586.1,198.0 587.1,197.9 588.1,197.7 589.1,197.6 590.1,197.4 591.1,197.3 592.1,197.3 593.1,197.2 594.1,197.2 595.1,197.3 596.1,197.3 597.1,197.4 598.1,197.5 599.1,197.6 600.1,197.6 601.1,197.7 602.1,197.8 603.1,198.0 604.1,198.1 605.1,198.2 606.1,198.3 607.1,198.4 608.1,198.5 609.1,198.5 610.1,198.6 611.1,198.8 612.1,199.0 613.1,199.1 614.1,199.2 615.1,199.3 616.1,199.2 617.1,199.2 618.1,199.1 619.1,199.0 620.1,198.9 621.1,198.9 622.1,198.9 623.1,198.9 624.1,199.0 625.1,199.0 626.1,199.1 627.1,199.1 628.1,199.1 629.1,199.2 630.1,199.2 631.1,199.1 632.1,199.1 633.1,199.0 634.1,199.0 635.1,198.9 636.1,198.8 637.1,198.8 638.1,198.6 639.1,198.5 640.1,198.3 641.1,198.1 642.1,197.9 643.1,197.9 644.1,197.9 645.1,198.1 646.1,198.3 647.1,198.5 648.1,198.7 649.1,198.7 650.1,198.5 651.1,198.2 652.1,197.8 653.1,197.3 654.1,196.9 655.1,196.5 656.1,196.3 657.1,196.2 658.1,196.2 659.1,196.3 660.1,196.6 661.1,196.9 662.1,197.3 663.1,197.6 664.1,198.0 665.1,198.2 666.1,198.4 667.1,198.5 668.1,198.4 669.1,198.3 670.1,198.1 671.1,197.9 672.1,197.6 673.1,197.4" fill="none" stroke="#2b5c94" stroke-width="3" stroke-linejoin="round" stroke-linecap="round"/>
<polyline points="70.1,349.6 71.1,349.6 72.1,349.6 73.1,349.6 74.1,349.7 75.1,349.7 76.1,349.7 77.1,349.7 78.1,349.7 79.1,349.6 80.1,349.5 81.1,349.4 82.1,349.3 83.1,349.2 84.1,349.1 85.1,349.1 86.1,349.2 87.1,349.3 88.1,349.4 89.1,349.5 90.1,349.5 91.1,349.6 92.1,349.5 93.1,349.5 94.1,349.4 95.1,349.3 96.1,349.1 97.1,348.9 98.1,348.7 99.1,348.6 100.1,348.5 101.1,348.4 102.1,348.4 103.1,348.5 104.1,348.6 105.1,348.8 106.1,348.9 107.1,349.0 108.1,349.1 109.1,349.2 110.1,349.2 111.1,349.2 112.1,349.1 113.1,349.0 114.1,348.8 115.1,348.7 116.1,348.6 117.1,348.5 118.1,348.4 119.1,348.4 120.1,348.5 121.1,348.5 122.1,348.6 123.1,348.7 124.1,348.8 125.1,348.9 126.1,349.0 127.1,349.1 128.1,349.2 129.1,349.2 130.1,349.2 131.1,349.2 132.1,349.2 133.1,349.3 134.1,349.4 135.1,349.4 136.1,349.4 137.1,349.5 138.1,349.5 139.1,349.5 140.1,349.5 141.1,349.5 142.1,349.5 143.1,349.6 144.1,349.7 145.1,349.7 146.1,349.8 147.1,349.9 148.1,349.9 149.1,349.9 150.1,349.8 151.1,349.6 152.1,349.4 153.1,349.2 154.1,349.0 155.1,348.8 156.1,348.7 157.1,348.6 158.1,348.6 159.1,348.7 160.1,348.9 161.1,349.1 162.1,349.3 163.1,349.5 164.1,349.7 165.1,349.8 166.1,349.8 167.1,349.8 168.1,349.7 169.1,349.7 170.1,349.5 171.1,349.4 172.1,349.3 173.1,349.2 174.1,349.2 175.1,349.1 176.1,349.0 177.1,348.9 178.1,348.8 179.1,348.7 180.1,348.7 181.1,348.7 182.1,348.7 183.1,348.8 184.1,349.0 185.1,349.1 186.1,349.3 187.1,349.5 188.1,349.6 189.1,349.7 190.1,349.7 191.1,349.6 192.1,349.5 193.1,349.4 194.1,349.3 195.1,349.2 196.1,349.1 197.1,349.0 198.1,349.0 199.1,348.9 200.1,348.9 201.1,349.0 202.1,348.9 203.1,348.9 204.1,348.9 205.1,348.9 206.1,349.0 207.1,349.2 208.1,349.4 209.1,349.6 210.1,349.7 211.1,349.7 212.1,349.6 213.1,349.6 214.1,349.6 215.1,349.9 216.1,350.2 217.1,350.6 218.1,350.8 219.1,350.9 220.1,350.8 221.1,350.6 222.1,350.4 223.1,350.4 224.1,350.6 225.1,350.9 226.1,351.1 227.1,351.1 228.1,351.0 229.1,350.6 230.1,350.2 231.1,349.8 232.1,349.8 233.1,349.9 234.1,350.2 235.1,350.4 236.1,350.3 237.1,350.1 238.1,349.7 239.1,349.2 240.1,349.0 241.1,349.0 242.1,349.4 243.1,349.8 244.1,350.2 245.1,350.4 246.1,350.4 247.1,350.1 248.1,349.9 249.1,349.8 250.1,350.1 251.1,350.5 252.1,351.0 253.1,351.4 254.1,351.5 255.1,351.3 256.1,350.9 257.1,350.5 258.1,350.2 259.1,350.1 260.1,350.3 261.1,350.6 262.1,350.7 263.1,350.7 264.1,350.4 265.1,349.8 266.1,349.3 267.1,348.9 268.1,348.7 269.1,348.8 270.1,348.9 271.1,349.1 272.1,349.2 273.1,349.1 274.1,348.9 275.1,348.8 276.1,348.7 277.1,348.7 278.1,348.7 279.1,348.9 280.1,349.0 281.1,349.0 282.1,348.9 283.1,348.8 284.1,348.7 285.1,348.7 286.1,348.8 287.1,348.9 288.1,349.0 289.1,349.1 290.1,349.1 291.1,349.1 292.1,349.0 293.1,349.0 294.1,349.0 295.1,348.9 296.1,348.0 297.1,345.1 298.1,338.7 299.1,328.7 300.1,316.5 301.1,303.6 302.1,290.5 303.1,277.3 304.1,264.2 305.1,251.5 306.1,240.7 307.1,235.0 307.4,234.8 308.1,237.2 309.1,246.5 310.1,259.5 311.1,273.7 312.1,288.1 313.1,302.4 314.1,316.6 315.1,329.7 316.1,340.1 317.1,346.4 318.1,349.0 319.1,349.7 320.1,349.7 321.1,349.7 322.1,349.6 323.1,349.5 324.1,349.4 325.1,349.3 326.1,349.2 327.1,349.1 328.1,349.1 329.1,349.0 330.1,349.0 331.1,349.0 332.1,349.1 333.1,349.1 334.1,349.2 335.1,349.2 336.1,349.3 337.1,349.3 338.1,349.3 339.1,349.3 340.1,349.3 341.1,349.3 342.1,349.3 343.1,349.3 344.1,349.2 345.1,349.2 346.1,349.2 347.1,349.3 348.1,349.4 349.1,349.6 350.1,349.7 351.1,349.9 352.1,350.0 353.1,350.1 354.1,350.2 355.1,350.2 356.1,350.2 357.1,350.2 358.1,350.1 359.1,350.0 360.1,349.9 361.1,349.7 362.1,349.6 363.1,349.4 364.1,349.3 365.1,349.2 366.1,349.1 367.1,349.2 368.1,349.3 369.1,349.5 370.1,349.7 371.1,350.0 372.1,350.2 373.1,350.3 374.1,350.3 375.1,350.2 376.1,350.1 377.1,349.9 378.1,349.7 379.1,349.5 380.1,349.4 381.1,349.4 382.1,349.4 383.1,349.3 384.1,349.3 385.1,349.3 386.1,349.2 387.1,349.2 388.1,349.2 389.1,349.2 390.1,349.3 391.1,349.4 392.1,349.5 393.1,349.7 394.1,349.7 395.1,349.8 396.1,349.7 397.1,349.7 398.1,349.6 399.1,349.5 400.1,349.4 401.1,349.4 402.1,349.4 403.1,349.4 404.1,349.4 405.1,349.4 406.1,349.4 407.1,349.4 408.1,349.3 409.1,349.3 410.1,349.3 411.1,349.2 412.1,349.2 413.1,349.2 414.1,349.2 415.1,349.3 416.1,349.4 417.1,349.4 418.1,349.5 419.1,349.6 420.1,349.7 421.1,349.7 422.1,349.7 423.1,349.6 424.1,349.5 425.1,349.4 426.1,349.3 427.1,349.2 428.1,349.3 429.1,349.3 430.1,349.4 431.1,349.5 432.1,349.6 433.1,349.7 434.1,349.8 435.1,349.8 436.1,349.7 437.1,349.7 438.1,349.6 439.1,349.5 440.1,349.4 441.1,349.4 442.1,349.4 443.1,349.5 444.1,349.6 445.1,349.8 446.1,349.9 447.1,350.0 448.1,350.0 449.1,350.0 450.1,349.9 451.1,349.8 452.1,349.7 453.1,349.7 454.1,349.6 455.1,349.6 456.1,349.6 457.1,349.6 458.1,349.6 459.1,349.6 460.1,349.6 461.1,349.6 462.1,349.6 463.1,349.6 464.1,349.6 465.1,349.6 466.1,349.6 467.1,349.5 468.1,349.5 469.1,349.5 470.1,349.5 471.1,349.6 472.1,349.7 473.1,349.8 474.1,350.0 475.1,350.1 476.1,350.1 477.1,350.1 478.1,350.1 479.1,350.1 480.1,350.1 481.1,350.0 482.1,349.9 483.1,349.9 484.1,349.8 485.1,349.7 486.1,349.7 487.1,349.8 488.1,349.9 489.1,350.0 490.1,350.1 491.1,350.3 492.1,350.4 493.1,350.4 494.1,350.4 495.1,350.4 496.1,350.4 497.1,350.4 498.1,350.4 499.1,350.4 500.1,350.4 501.1,350.4 502.1,350.4 503.1,350.4 504.1,350.3 505.1,350.1 506.1,349.9 507.1,349.7 508.1,349.5 509.1,349.3 510.1,349.1 511.1,348.9 512.1,348.9 513.1,348.8 514.1,348.8 515.1,348.9 516.1,348.9 517.1,348.9 518.1,349.0 519.1,349.0 520.1,349.0 521.1,349.0 522.1,349.0 523.1,349.1 524.1,349.1 525.1,349.0 526.1,349.0 527.1,348.9 528.1,348.8 529.1,348.7 530.1,348.7 531.1,348.7 532.1,348.7 533.1,348.8 534.1,348.9 535.1,348.9 536.1,349.0 537.1,349.2 538.1,349.3 539.1,349.4 540.1,349.6 541.1,349.7 542.1,349.7 543.1,349.7 544.1,349.7 545.1,349.6 546.1,349.4 547.1,349.3 548.1,349.1 549.1,349.0 550.1,349.0 551.1,349.0 552.1,349.1 553.1,349.2 554.1,349.3 555.1,349.4 556.1,349.5 557.1,349.5 558.1,349.5 559.1,349.5 560.1,349.5 561.1,349.5 562.1,349.4 563.1,349.4 564.1,349.4 565.1,349.5 566.1,349.5 567.1,349.5 568.1,349.4 569.1,349.3 570.1,349.2 571.1,349.1 572.1,349.0 573.1,348.9 574.1,348.9 575.1,349.0 576.1,349.0 577.1,349.1 578.1,349.2 579.1,349.3 580.1,349.3 581.1,349.3 582.1,349.3 583.1,349.2 584.1,349.1 585.1,349.0 586.1,348.8 587.1,348.7 588.1,348.7 589.1,348.7 590.1,348.7 591.1,348.7 592.1,348.8 593.1,348.9 594.1,348.9 595.1,348.9 596.1,348.9 597.1,349.0 598.1,349.0 599.1,349.0 600.1,349.1 601.1,349.1 602.1,349.2 603.1,349.2 604.1,349.2 605.1,349.2 606.1,349.2 607.1,349.3 608.1,349.3 609.1,349.3 610.1,349.3 611.1,349.4 612.1,349.4 613.1,349.3 614.1,349.3 615.1,349.2 616.1,349.1 617.1,348.9 618.1,348.8 619.1,348.7 620.1,348.7 621.1,348.7 622.1,348.7 623.1,348.8 624.1,349.0 625.1,349.1 626.1,349.2 627.1,349.4 628.1,349.5 629.1,349.6 630.1,349.6 631.1,349.7 632.1,349.7 633.1,349.6 634.1,349.6 635.1,349.6 636.1,349.6 637.1,349.6 638.1,349.6 639.1,349.6 640.1,349.6 641.1,349.6 642.1,349.6 643.1,349.6 644.1,349.6 645.1,349.6 646.1,349.6 647.1,349.7 648.1,349.7 649.1,349.8 650.1,349.7 651.1,349.7 652.1,349.6 653.1,349.5 654.1,349.5 655.1,349.5 656.1,349.5 657.1,349.6 658.1,349.7 659.1,349.8 660.1,349.9 661.1,350.0 662.1,349.9 663.1,349.9 664.1,349.8 665.1,349.7 666.1,349.6 667.1,349.5 668.1,349.5 669.1,349.4 670.1,349.4 671.1,349.5 672.1,349.5 673.1,349.6" fill="none" stroke="#ec0000" stroke-width="3" stroke-linejoin="round" stroke-linecap="round"/>
<polyline points="70.1,350.1 71.1,350.2 72.1,350.2 73.1,350.2 74.1,350.0 75.1,349.8 76.1,349.6 77.1,349.4 78.1,349.1 79.1,348.9 80.1,348.8 81.1,348.7 82.1,348.7 83.1,348.8 84.1,348.8 85.1,348.8 86.1,348.8 87.1,348.7 88.1,348.5 89.1,348.3 90.1,348.2 91.1,348.0 92.1,348.0 93.1,348.0 94.1,348.1 95.1,348.3 96.1,348.5 97.1,348.7 98.1,348.9 99.1,349.0 100.1,349.0 101.1,349.0 102.1,349.0 103.1,349.1 104.1,349.1 105.1,349.1 106.1,349.1 107.1,349.0 108.1,349.0 109.1,348.8 110.1,348.7 111.1,348.5 112.1,348.3 113.1,348.1 114.1,348.1 115.1,348.0 116.1,348.1 117.1,348.2 118.1,348.3 119.1,348.4 120.1,348.5 121.1,348.6 122.1,348.8 123.1,348.9 124.1,349.0 125.1,349.0 126.1,349.0 127.1,349.0 128.1,349.0 129.1,348.9 130.1,348.9 131.1,348.9 132.1,348.9 133.1,348.8 134.1,348.8 135.1,348.7 136.1,348.7 137.1,348.7 138.1,348.7 139.1,348.7 140.1,348.7 141.1,348.6 142.1,348.6 143.1,348.6 144.1,348.6 145.1,348.5 146.1,348.5 147.1,348.4 148.1,348.3 149.1,348.3 150.1,348.2 151.1,348.2 152.1,348.3 153.1,348.3 154.1,348.4 155.1,348.5 156.1,348.5 157.1,348.5 158.1,348.5 159.1,348.4 160.1,348.4 161.1,348.4 162.1,348.5 163.1,348.6 164.1,348.8 165.1,348.9 166.1,349.0 167.1,349.1 168.1,349.1 169.1,349.2 170.1,349.2 171.1,349.3 172.1,349.3 173.1,349.4 174.1,349.5 175.1,349.5 176.1,349.5 177.1,349.5 178.1,349.5 179.1,349.4 180.1,349.3 181.1,349.1 182.1,349.0 183.1,348.9 184.1,348.8 185.1,348.7 186.1,348.7 187.1,348.8 188.1,348.9 189.1,349.0 190.1,349.1 191.1,349.2 192.1,349.3 193.1,349.5 194.1,349.6 195.1,349.7 196.1,349.7 197.1,349.7 198.1,349.7 199.1,349.7 200.1,349.6 201.1,349.5 202.1,349.3 203.1,349.2 204.1,349.0 205.1,348.9 206.1,348.7 207.1,348.5 208.1,348.3 209.1,348.2 210.1,348.1 211.1,348.0 212.1,347.9 213.1,347.9 214.1,347.9 215.1,347.9 216.1,347.9 217.1,347.9 218.1,347.8 219.1,347.8 220.1,347.8 221.1,347.8 222.1,347.9 223.1,348.1 224.1,348.3 225.1,348.5 226.1,348.7 227.1,349.0 228.1,349.1 229.1,349.3 230.1,349.3 231.1,349.3 232.1,349.2 233.1,349.1 234.1,349.0 235.1,349.0 236.1,348.9 237.1,348.9 238.1,349.0 239.1,349.0 240.1,349.1 241.1,349.2 242.1,349.3 243.1,349.4 244.1,349.5 245.1,349.5 246.1,349.5 247.1,349.4 248.1,349.3 249.1,349.1 250.1,349.0 251.1,348.8 252.1,348.7 253.1,348.7 254.1,348.7 255.1,348.7 256.1,348.8 257.1,348.9 258.1,349.1 259.1,349.2 260.1,349.3 261.1,349.4 262.1,349.5 263.1,349.6 264.1,349.7 265.1,349.7 266.1,349.7 267.1,349.7 268.1,349.7 269.1,349.7 270.1,349.7 271.1,349.7 272.1,349.7 273.1,349.8 274.1,349.9 275.1,349.9 276.1,349.9 277.1,349.8 278.1,349.6 279.1,349.3 280.1,349.1 281.1,348.8 282.1,348.7 283.1,348.6 284.1,348.7 285.1,348.8 286.1,348.9 287.1,349.0 288.1,349.0 289.1,349.0 290.1,348.9 291.1,348.8 292.1,348.8 293.1,348.8 294.1,348.8 295.1,348.8 296.1,348.9 297.1,349.0 298.1,349.0 299.1,349.0 300.1,349.0 301.1,349.0 302.1,348.9 303.1,348.9 304.1,348.9 305.1,349.0 306.1,349.1 307.1,349.3 308.1,349.4 309.1,349.6 310.1,349.8 311.1,349.9 312.1,350.0 313.1,350.0 314.1,350.1 315.1,350.1 316.1,350.2 317.1,350.3 318.1,350.3 319.1,350.4 320.1,350.4 321.1,350.2 322.1,350.1 323.1,349.8 324.1,349.6 325.1,349.3 326.1,349.1 327.1,348.9 328.1,348.8 329.1,348.7 330.1,348.6 331.1,348.6 332.1,348.6 333.1,348.5 334.1,348.5 335.1,348.5 336.1,348.4 337.1,348.4 338.1,348.3 339.1,348.3 340.1,348.2 341.1,348.2 342.1,348.3 343.1,348.3 344.1,348.4 345.1,348.5 346.1,348.6 347.1,348.6 348.1,348.7 349.1,348.7 350.1,348.7 351.1,348.7 352.1,348.6 353.1,348.5 354.1,348.5 355.1,348.5 356.1,348.4 357.1,348.4 358.1,348.3 359.1,348.2 360.1,348.2 361.1,348.2 362.1,348.3 363.1,348.4 364.1,348.6 365.1,348.7 366.1,348.9 367.1,349.0 368.1,349.0 369.1,349.0 370.1,348.9 371.1,348.8 372.1,348.7 373.1,348.7 374.1,348.7 375.1,348.7 376.1,348.7 377.1,348.7 378.1,348.7 379.1,348.7 380.1,348.6 381.1,348.6 382.1,348.5 383.1,348.5 384.1,348.5 385.1,348.6 386.1,348.6 387.1,348.6 388.1,348.5 389.1,348.5 390.1,348.5 391.1,348.5 392.1,348.5 393.1,348.5 394.1,348.6 395.1,348.8 396.1,348.9 397.1,349.1 398.1,349.2 399.1,349.3 400.1,349.4 401.1,349.4 402.1,349.4 403.1,349.4 404.1,349.4 405.1,349.4 406.1,349.4 407.1,349.3 408.1,349.3 409.1,349.3 410.1,349.3 411.1,349.3 412.1,349.2 413.1,349.2 414.1,349.2 415.1,349.2 416.1,349.2 417.1,349.2 418.1,349.2 419.1,349.1 420.1,349.0 421.1,348.9 422.1,348.8 423.1,348.6 424.1,348.5 425.1,348.5 426.1,348.5 427.1,348.5 428.1,348.6 429.1,348.8 430.1,348.9 431.1,349.1 432.1,349.2 433.1,349.3 434.1,349.4 435.1,349.5 436.1,349.5 437.1,349.3 438.1,348.1 439.1,344.5 440.1,337.2 441.1,326.5 442.1,314.2 443.1,301.3 444.1,288.3 445.1,275.3 446.1,262.3 447.1,249.8 448.1,239.7 449.1,235.3 449.2,235.1 450.1,238.6 451.1,248.5 452.1,261.6 453.1,275.5 454.1,289.6 455.1,303.8 456.1,317.8 457.1,330.6 458.1,340.5 459.1,346.2 460.1,348.6 461.1,349.3 462.1,349.5 463.1,349.6 464.1,349.5 465.1,349.4 466.1,349.2 467.1,349.1 468.1,349.0 469.1,349.0 470.1,349.1 471.1,349.2 472.1,349.3 473.1,349.5 474.1,349.7 475.1,349.7 476.1,349.8 477.1,349.7 478.1,349.6 479.1,349.5 480.1,349.4 481.1,349.4 482.1,349.4 483.1,349.4 484.1,349.5 485.1,349.5 486.1,349.5 487.1,349.5 488.1,349.5 489.1,349.5 490.1,349.4 491.1,349.3 492.1,349.3 493.1,349.2 494.1,349.2 495.1,349.2 496.1,349.2 497.1,349.2 498.1,349.2 499.1,349.2 500.1,349.2 501.1,349.1 502.1,349.1 503.1,349.1 504.1,349.0 505.1,349.0 506.1,348.9 507.1,348.8 508.1,348.8 509.1,348.7 510.1,348.7 511.1,348.7 512.1,348.7 513.1,348.6 514.1,348.6 515.1,348.5 516.1,348.5 517.1,348.4 518.1,348.4 519.1,348.4 520.1,348.5 521.1,348.7 522.1,348.8 523.1,349.0 524.1,349.2 525.1,349.3 526.1,349.3 527.1,349.3 528.1,349.2 529.1,349.1 530.1,349.0 531.1,348.9 532.1,348.8 533.1,348.7 534.1,348.6 535.1,348.6 536.1,348.6 537.1,348.7 538.1,348.7 539.1,348.8 540.1,348.9 541.1,349.0 542.1,349.0 543.1,349.1 544.1,349.2 545.1,349.2 546.1,349.3 547.1,349.3 548.1,349.3 549.1,349.4 550.1,349.4 551.1,349.4 552.1,349.4 553.1,349.4 554.1,349.4 555.1,349.4 556.1,349.3 557.1,349.2 558.1,349.0 559.1,348.8 560.1,348.6 561.1,348.5 562.1,348.3 563.1,348.2 564.1,348.2 565.1,348.2 566.1,348.4 567.1,348.5 568.1,348.7 569.1,348.9 570.1,349.1 571.1,349.2 572.1,349.3 573.1,349.3 574.1,349.3 575.1,349.2 576.1,349.1 577.1,349.1 578.1,349.1 579.1,349.1 580.1,349.1 581.1,349.2 582.1,349.3 583.1,349.3 584.1,349.4 585.1,349.4 586.1,349.3 587.1,349.3 588.1,349.2 589.1,349.1 590.1,349.1 591.1,349.1 592.1,349.1 593.1,349.1 594.1,349.2 595.1,349.3 596.1,349.4 597.1,349.4 598.1,349.4 599.1,349.4 600.1,349.4 601.1,349.3 602.1,349.3 603.1,349.2 604.1,349.2 605.1,349.1 606.1,349.0 607.1,348.9 608.1,348.8 609.1,348.6 610.1,348.6 611.1,348.5 612.1,348.5 613.1,348.5 614.1,348.5 615.1,348.5 616.1,348.5 617.1,348.4 618.1,348.3 619.1,348.2 620.1,348.2 621.1,348.1 622.1,348.1 623.1,348.2 624.1,348.3 625.1,348.5 626.1,348.7 627.1,348.9 628.1,349.0 629.1,349.2 630.1,349.2 631.1,349.1 632.1,349.1 633.1,349.0 634.1,348.9 635.1,348.9 636.1,348.9 637.1,348.9 638.1,349.0 639.1,349.1 640.1,349.1 641.1,349.1 642.1,349.1 643.1,349.1 644.1,349.1 645.1,349.1 646.1,349.1 647.1,349.1 648.1,349.2 649.1,349.2 650.1,349.3 651.1,349.3 652.1,349.3 653.1,349.4 654.1,349.5 655.1,349.6 656.1,349.8 657.1,349.8 658.1,349.9 659.1,349.8 660.1,349.8 661.1,349.7 662.1,349.6 663.1,349.6 664.1,349.6 665.1,349.6 666.1,349.6 667.1,349.7 668.1,349.7 669.1,349.7 670.1,349.7 671.1,349.6 672.1,349.5 673.1,349.4" fill="none" stroke="#32be68" stroke-width="3" stroke-linejoin="round" stroke-linecap="round"/>
<polyline points="70.1,350.1 71.1,350.0 72.1,349.9 73.1,349.7 74.1,349.6 75.1,349.4 76.1,349.3 77.1,349.3 78.1,349.3 79.1,349.3 80.1,349.4 81.1,349.5 82.1,349.6 83.1,349.7 84.1,349.7 85.1,349.8 86.1,349.8 87.1,349.9 88.1,350.0 89.1,350.1 90.1,350.2 91.1,350.4 92.1,350.5 93.1,350.6 94.1,350.7 95.1,350.8 96.1,350.8 97.1,350.8 98.1,350.9 99.1,350.9 100.1,350.9 101.1,350.9 102.1,350.9 103.1,351.0 104.1,351.0 105.1,351.0 106.1,351.0 107.1,351.0 108.1,350.9 109.1,350.7 110.1,350.6 111.1,350.4 112.1,350.3 113.1,350.1 114.1,350.0 115.1,349.9 116.1,349.8 117.1,349.8 118.1,349.9 119.1,349.9 120.1,350.0 121.1,350.1 122.1,350.2 123.1,350.2 124.1,350.2 125.1,350.1 126.1,350.1 127.1,349.9 128.1,349.8 129.1,349.6 130.1,349.5 131.1,349.4 132.1,349.4 133.1,349.4 134.1,349.5 135.1,349.7 136.1,349.9 137.1,350.0 138.1,350.1 139.1,350.1 140.1,350.1 141.1,350.1 142.1,350.0 143.1,349.9 144.1,349.9 145.1,349.9 146.1,349.8 147.1,349.7 148.1,349.6 149.1,349.5 150.1,349.3 151.1,349.1 152.1,348.9 153.1,348.8 154.1,348.8 155.1,348.8 156.1,348.9 157.1,349.1 158.1,349.3 159.1,349.4 160.1,349.5 161.1,349.5 162.1,349.4 163.1,349.3 164.1,349.2 165.1,349.1 166.1,349.0 167.1,349.0 168.1,349.1 169.1,349.1 170.1,349.2 171.1,349.3 172.1,349.4 173.1,349.5 174.1,349.6 175.1,349.6 176.1,349.7 177.1,349.8 178.1,349.9 179.1,350.0 180.1,350.1 181.1,350.2 182.1,350.3 183.1,350.2 184.1,350.2 185.1,350.2 186.1,350.2 187.1,350.2 188.1,350.2 189.1,350.2 190.1,350.3 191.1,350.3 192.1,350.3 193.1,350.3 194.1,350.2 195.1,350.1 196.1,350.0 197.1,349.9 198.1,349.7 199.1,349.6 200.1,349.5 201.1,349.4 202.1,349.4 203.1,349.3 204.1,349.3 205.1,349.3 206.1,349.3 207.1,349.4 208.1,349.4 209.1,349.4 210.1,349.5 211.1,349.5 212.1,349.5 213.1,349.5 214.1,349.6 215.1,349.7 216.1,349.8 217.1,350.0 218.1,350.2 219.1,350.3 220.1,350.4 221.1,350.5 222.1,350.5 223.1,350.5 224.1,350.5 225.1,350.5 226.1,350.5 227.1,350.4 228.1,350.4 229.1,350.4 230.1,350.3 231.1,350.3 232.1,350.2 233.1,350.2 234.1,350.2 235.1,350.3 236.1,350.3 237.1,350.4 238.1,350.6 239.1,350.7 240.1,350.7 241.1,350.8 242.1,350.8 243.1,350.7 244.1,350.7 245.1,350.5 246.1,350.4 247.1,350.3 248.1,350.3 249.1,350.2 250.1,350.2 251.1,350.1 252.1,350.0 253.1,349.9 254.1,349.7 255.1,349.6 256.1,349.5 257.1,349.4 258.1,349.4 259.1,349.4 260.1,349.4 261.1,349.4 262.1,349.4 263.1,349.4 264.1,349.4 265.1,349.5 266.1,349.7 267.1,349.8 268.1,350.0 269.1,350.2 270.1,350.3 271.1,350.4 272.1,350.4 273.1,350.5 274.1,350.5 275.1,350.6 276.1,350.7 277.1,350.7 278.1,350.7 279.1,350.6 280.1,350.6 281.1,350.4 282.1,350.3 283.1,350.2 284.1,350.1 285.1,350.0 286.1,349.9 287.1,349.8 288.1,349.6 289.1,349.4 290.1,349.3 291.1,349.2 292.1,349.3 293.1,349.4 294.1,349.6 295.1,349.8 296.1,350.1 297.1,350.4 298.1,350.6 299.1,350.7 300.1,350.8 301.1,350.8 302.1,350.8 303.1,350.8 304.1,350.7 305.1,350.7 306.1,350.6 307.1,350.5 308.1,350.4 309.1,350.3 310.1,350.1 311.1,350.0 312.1,350.0 313.1,349.9 314.1,349.9 315.1,349.9 316.1,349.9 317.1,349.9 318.1,349.8 319.1,349.8 320.1,349.8 321.1,349.8 322.1,349.8 323.1,349.8 324.1,349.9 325.1,350.0 326.1,350.0 327.1,350.1 328.1,350.1 329.1,350.1 330.1,350.1 331.1,350.0 332.1,350.0 333.1,349.9 334.1,349.8 335.1,349.7 336.1,349.6 337.1,349.5 338.1,349.5 339.1,349.6 340.1,349.7 341.1,349.9 342.1,350.0 343.1,350.1 344.1,350.3 345.1,350.3 346.1,350.4 347.1,350.5 348.1,350.6 349.1,350.6 350.1,350.7 351.1,350.8 352.1,350.9 353.1,351.0 354.1,351.0 355.1,351.0 356.1,351.0 357.1,351.0 358.1,350.9 359.1,350.9 360.1,350.9 361.1,350.9 362.1,350.9 363.1,350.9 364.1,350.9 365.1,350.9 366.1,350.9 367.1,350.9 368.1,350.8 369.1,350.6 370.1,350.4 371.1,350.2 372.1,350.0 373.1,349.8 374.1,349.6 375.1,349.5 376.1,349.4 377.1,349.4 378.1,349.4 379.1,349.5 380.1,349.6 381.1,349.7 382.1,349.9 383.1,350.1 384.1,350.2 385.1,350.2 386.1,350.2 387.1,350.1 388.1,350.0 389.1,349.6 390.1,348.2 391.1,344.1 392.1,336.3 393.1,325.3 394.1,312.7 395.1,299.6 396.1,286.5 397.1,273.5 398.1,260.6 399.1,248.5 400.1,239.1 401.1,235.9 402.1,240.6 403.1,251.3 404.1,264.7 405.1,278.8 406.1,292.9 407.1,307.0 408.1,320.7 409.1,333.0 410.1,342.3 411.1,347.4 412.1,349.3 413.1,349.9 414.1,350.1 415.1,350.3 416.1,350.4 417.1,350.4 418.1,350.5 419.1,350.4 420.1,350.3 421.1,350.2 422.1,350.1 423.1,350.1 424.1,350.0 425.1,350.0 426.1,350.1 427.1,350.2 428.1,350.3 429.1,350.4 430.1,350.5 431.1,350.6 432.1,350.6 433.1,350.5 434.1,350.4 435.1,350.3 436.1,350.3 437.1,350.3 438.1,350.3 439.1,350.3 440.1,350.3 441.1,350.2 442.1,350.1 443.1,350.1 444.1,350.0 445.1,350.0 446.1,350.0 447.1,350.1 448.1,350.2 449.1,350.3 450.1,350.4 451.1,350.4 452.1,350.4 453.1,350.3 454.1,350.2 455.1,350.0 456.1,349.8 457.1,349.6 458.1,349.5 459.1,349.5 460.1,349.5 461.1,349.5 462.1,349.6 463.1,349.7 464.1,349.8 465.1,349.9 466.1,350.0 467.1,350.2 468.1,350.2 469.1,350.3 470.1,350.2 471.1,350.1 472.1,350.0 473.1,349.9 474.1,349.9 475.1,349.9 476.1,349.9 477.1,350.0 478.1,350.1 479.1,350.3 480.1,350.4 481.1,350.5 482.1,350.6 483.1,350.7 484.1,350.7 485.1,350.8 486.1,350.8 487.1,350.7 488.1,350.6 489.1,350.4 490.1,350.3 491.1,350.1 492.1,349.9 493.1,349.9 494.1,349.8 495.1,349.9 496.1,349.9 497.1,349.9 498.1,350.0 499.1,350.0 500.1,350.1 501.1,350.1 502.1,350.2 503.1,350.2 504.1,350.2 505.1,350.2 506.1,350.0 507.1,349.8 508.1,349.6 509.1,349.5 510.1,349.3 511.1,349.2 512.1,349.1 513.1,349.0 514.1,349.0 515.1,349.0 516.1,349.1 517.1,349.2 518.1,349.3 519.1,349.5 520.1,349.6 521.1,349.7 522.1,349.8 523.1,350.0 524.1,350.1 525.1,350.3 526.1,350.4 527.1,350.5 528.1,350.5 529.1,350.6 530.1,350.6 531.1,350.5 532.1,350.5 533.1,350.5 534.1,350.5 535.1,350.5 536.1,350.5 537.1,350.6 538.1,350.5 539.1,350.5 540.1,350.4 541.1,350.4 542.1,350.3 543.1,350.2 544.1,350.1 545.1,350.0 546.1,349.9 547.1,349.7 548.1,349.6 549.1,349.5 550.1,349.4 551.1,349.3 552.1,349.3 553.1,349.3 554.1,349.3 555.1,349.4 556.1,349.5 557.1,349.5 558.1,349.6 559.1,349.7 560.1,349.8 561.1,349.9 562.1,350.0 563.1,350.1 564.1,350.2 565.1,350.3 566.1,350.4 567.1,350.4 568.1,350.4 569.1,350.5 570.1,350.5 571.1,350.5 572.1,350.6 573.1,350.7 574.1,350.8 575.1,350.9 576.1,351.0 577.1,351.0 578.1,350.9 579.1,350.7 580.1,350.5 581.1,350.3 582.1,350.1 583.1,350.0 584.1,350.0 585.1,349.9 586.1,349.9 587.1,349.9 588.1,349.8 589.1,349.8 590.1,349.8 591.1,349.8 592.1,349.8 593.1,349.9 594.1,350.0 595.1,350.1 596.1,350.1 597.1,350.2 598.1,350.3 599.1,350.4 600.1,350.5 601.1,350.6 602.1,350.7 603.1,350.7 604.1,350.7 605.1,350.6 606.1,350.6 607.1,350.6 608.1,350.6 609.1,350.6 610.1,350.6 611.1,350.7 612.1,350.7 613.1,350.7 614.1,350.7 615.1,350.6 616.1,350.4 617.1,350.2 618.1,350.0 619.1,349.7 620.1,349.5 621.1,349.3 622.1,349.2 623.1,349.1 624.1,349.1 625.1,349.2 626.1,349.2 627.1,349.3 628.1,349.4 629.1,349.5 630.1,349.5 631.1,349.5 632.1,349.5 633.1,349.6 634.1,349.6 635.1,349.7 636.1,349.7 637.1,349.7 638.1,349.6 639.1,349.5 640.1,349.5 641.1,349.4 642.1,349.3 643.1,349.3 644.1,349.3 645.1,349.3 646.1,349.3 647.1,349.3 648.1,349.2 649.1,349.2 650.1,349.2 651.1,349.1 652.1,349.1 653.1,349.2 654.1,349.3 655.1,349.4 656.1,349.5 657.1,349.6 658.1,349.8 659.1,349.9 660.1,350.0 661.1,350.2 662.1,350.2 663.1,350.3 664.1,350.3 665.1,350.2 666.1,350.1 667.1,350.0 668.1,349.9 669.1,349.8 670.1,349.8 671.1,349.9 672.1,350.0 673.1,350.1" fill="none" stroke="#ffc000" stroke-width="3" stroke-linejoin="round" stroke-linecap="round"/>
<polyline points="70.1,348.7 71.1,348.6 72.1,348.5 73.1,348.4 74.1,348.3 75.1,348.2 76.1,348.2 77.1,348.3 78.1,348.5 79.1,348.7 80.1,349.0 81.1,349.4 82.1,349.8 83.1,350.1 84.1,350.4 85.1,350.6 86.1,350.6 87.1,350.5 88.1,350.3 89.1,349.9 90.1,349.5 91.1,349.1 92.1,348.7 93.1,348.5 94.1,348.4 95.1,348.6 96.1,348.8 97.1,349.2 98.1,349.6 99.1,349.9 100.1,350.1 101.1,350.2 102.1,350.3 103.1,350.2 104.1,350.0 105.1,349.9 106.1,349.8 107.1,349.7 108.1,349.7 109.1,349.8 110.1,349.8 111.1,349.9 112.1,349.9 113.1,350.0 114.1,350.0 115.1,350.0 116.1,350.1 117.1,350.1 118.1,350.1 119.1,350.1 120.1,350.1 121.1,350.1 122.1,350.0 123.1,349.9 124.1,349.9 125.1,349.8 126.1,349.7 127.1,349.6 128.1,349.3 129.1,349.1 130.1,348.8 131.1,348.6 132.1,348.4 133.1,348.4 134.1,348.4 135.1,348.6 136.1,348.9 137.1,349.2 138.1,349.4 139.1,349.6 140.1,349.7 141.1,349.7 142.1,349.7 143.1,349.6 144.1,349.5 145.1,349.4 146.1,349.3 147.1,349.2 148.1,349.3 149.1,349.3 150.1,349.4 151.1,349.5 152.1,349.6 153.1,349.6 154.1,349.5 155.1,349.4 156.1,349.2 157.1,349.0 158.1,348.9 159.1,348.7 160.1,348.6 161.1,348.6 162.1,348.6 163.1,348.6 164.1,348.7 165.1,348.8 166.1,348.8 167.1,348.8 168.1,348.8 169.1,348.8 170.1,348.7 171.1,348.6 172.1,348.6 173.1,348.5 174.1,348.4 175.1,348.3 176.1,348.2 177.1,348.2 178.1,348.1 179.1,348.0 180.1,348.0 181.1,347.9 182.1,348.0 183.1,348.1 184.1,348.2 185.1,348.3 186.1,348.3 187.1,348.3 188.1,348.3 189.1,348.2 190.1,348.1 191.1,348.0 192.1,348.1 193.1,348.2 194.1,348.3 195.1,348.5 196.1,348.7 197.1,348.8 198.1,348.9 199.1,349.0 200.1,349.0 201.1,349.1 202.1,349.1 203.1,349.2 204.1,349.3 205.1,349.4 206.1,349.5 207.1,349.5 208.1,349.6 209.1,349.6 210.1,349.7 211.1,349.8 212.1,349.8 213.1,349.9 214.1,349.9 215.1,349.8 216.1,349.8 217.1,349.6 218.1,349.5 219.1,349.3 220.1,349.2 221.1,349.0 222.1,348.9 223.1,348.8 224.1,348.8 225.1,348.8 226.1,348.9 227.1,349.0 228.1,349.1 229.1,349.2 230.1,349.3 231.1,349.4 232.1,349.5 233.1,349.5 234.1,349.6 235.1,349.6 236.1,349.6 237.1,349.5 238.1,349.5 239.1,349.4 240.1,349.3 241.1,349.2 242.1,349.1 243.1,349.0 244.1,348.8 245.1,348.7 246.1,348.5 247.1,348.3 248.1,348.2 249.1,348.1 250.1,348.0 251.1,348.0 252.1,348.1 253.1,348.1 254.1,348.2 255.1,348.3 256.1,348.4 257.1,348.5 258.1,348.6 259.1,348.7 260.1,348.8 261.1,349.0 262.1,349.2 263.1,349.4 264.1,349.6 265.1,349.8 266.1,350.0 267.1,350.1 268.1,350.3 269.1,350.3 270.1,350.4 271.1,350.3 272.1,350.3 273.1,350.3 274.1,350.3 275.1,350.3 276.1,350.3 277.1,350.3 278.1,350.4 279.1,350.4 280.1,350.5 281.1,350.5 282.1,350.5 283.1,350.4 284.1,350.3 285.1,350.1 286.1,349.9 287.1,349.7 288.1,349.5 289.1,349.4 290.1,349.3 291.1,349.2 292.1,349.2 293.1,349.1 294.1,349.1 295.1,349.0 296.1,348.9 297.1,348.9 298.1,348.8 299.1,348.8 300.1,348.7 301.1,348.7 302.1,348.7 303.1,348.8 304.1,348.9 305.1,349.0 306.1,349.2 307.1,349.5 308.1,349.7 309.1,349.9 310.1,350.0 311.1,350.1 312.1,350.1 313.1,350.1 314.1,350.0 315.1,349.9 316.1,349.7 317.1,349.4 318.1,349.2 319.1,348.9 320.1,348.7 321.1,348.5 322.1,348.4 323.1,348.3 324.1,348.3 325.1,348.2 326.1,348.1 327.1,348.1 328.1,348.1 329.1,348.1 330.1,348.2 331.1,348.3 332.1,348.5 333.1,348.7 334.1,348.8 335.1,349.0 336.1,349.1 337.1,349.3 338.1,349.5 339.1,349.6 340.1,349.8 341.1,349.9 342.1,349.9 343.1,349.9 344.1,349.8 345.1,349.6 346.1,349.5 347.1,349.3 348.1,349.2 349.1,348.9 350.1,347.8 351.1,344.5 352.1,337.4 353.1,326.9 354.1,314.3 355.1,301.2 356.1,287.9 357.1,274.6 358.1,261.5 359.1,248.9 360.1,238.6 361.1,233.8 361.3,234.0 362.1,237.3 363.1,247.5 364.1,260.9 365.1,275.3 366.1,289.8 367.1,304.1 368.1,318.0 369.1,330.6 370.1,340.3 371.1,345.8 372.1,347.8 373.1,348.0 374.1,347.7 375.1,347.4 376.1,347.2 377.1,347.1 378.1,347.1 379.1,347.2 380.1,347.3 381.1,347.5 382.1,347.8 383.1,348.0 384.1,348.3 385.1,348.6 386.1,348.9 387.1,349.3 388.1,349.6 389.1,349.9 390.1,350.1 391.1,350.3 392.1,350.3 393.1,350.3 394.1,350.1 395.1,349.9 396.1,349.6 397.1,349.3 398.1,349.0 399.1,348.7 400.1,348.6 401.1,348.6 402.1,348.7 403.1,349.0 404.1,349.3 405.1,349.7 406.1,350.1 407.1,350.4 408.1,350.6 409.1,350.6 410.1,350.5 411.1,350.2 412.1,349.9 413.1,349.5 414.1,349.2 415.1,349.0 416.1,348.9 417.1,348.9 418.1,349.0 419.1,349.1 420.1,349.3 421.1,349.4 422.1,349.4 423.1,349.4 424.1,349.3 425.1,349.1 426.1,348.9 427.1,348.8 428.1,348.8 429.1,348.8 430.1,348.9 431.1,349.1 432.1,349.2 433.1,349.4 434.1,349.5 435.1,349.6 436.1,349.6 437.1,349.6 438.1,349.6 439.1,349.7 440.1,349.7 441.1,349.7 442.1,349.6 443.1,349.6 444.1,349.6 445.1,349.5 446.1,349.5 447.1,349.4 448.1,349.5 449.1,349.5 450.1,349.6 451.1,349.7 452.1,349.9 453.1,350.0 454.1,350.2 455.1,350.3 456.1,350.3 457.1,350.3 458.1,350.2 459.1,350.0 460.1,349.7 461.1,349.4 462.1,349.2 463.1,348.9 464.1,348.7 465.1,348.6 466.1,348.4 467.1,348.3 468.1,348.1 469.1,348.0 470.1,347.9 471.1,347.9 472.1,347.9 473.1,348.0 474.1,348.1 475.1,348.2 476.1,348.3 477.1,348.3 478.1,348.4 479.1,348.5 480.1,348.5 481.1,348.6 482.1,348.7 483.1,348.7 484.1,348.6 485.1,348.5 486.1,348.4 487.1,348.2 488.1,348.1 489.1,348.0 490.1,347.9 491.1,347.9 492.1,348.0 493.1,348.1 494.1,348.2 495.1,348.4 496.1,348.6 497.1,348.8 498.1,349.1 499.1,349.3 500.1,349.5 501.1,349.6 502.1,349.6 503.1,349.6 504.1,349.6 505.1,349.5 506.1,349.5 507.1,349.5 508.1,349.6 509.1,349.7 510.1,349.8 511.1,350.0 512.1,350.1 513.1,350.1 514.1,350.2 515.1,350.2 516.1,350.1 517.1,350.1 518.1,350.1 519.1,350.1 520.1,350.1 521.1,350.0 522.1,349.9 523.1,349.8 524.1,349.7 525.1,349.6 526.1,349.5 527.1,349.6 528.1,349.7 529.1,349.8 530.1,350.0 531.1,350.2 532.1,350.3 533.1,350.3 534.1,350.3 535.1,350.1 536.1,350.0 537.1,349.8 538.1,349.7 539.1,349.6 540.1,349.4 541.1,349.3 542.1,349.2 543.1,349.1 544.1,349.1 545.1,348.9 546.1,348.8 547.1,348.6 548.1,348.4 549.1,348.2 550.1,348.0 551.1,347.8 552.1,347.7 553.1,347.7 554.1,347.7 555.1,347.8 556.1,347.9 557.1,348.0 558.1,348.2 559.1,348.3 560.1,348.3 561.1,348.3 562.1,348.2 563.1,348.0 564.1,347.8 565.1,347.6 566.1,347.5 567.1,347.3 568.1,347.2 569.1,347.2 570.1,347.2 571.1,347.4 572.1,347.6 573.1,347.9 574.1,348.2 575.1,348.5 576.1,348.8 577.1,349.1 578.1,349.2 579.1,349.4 580.1,349.4 581.1,349.4 582.1,349.3 583.1,349.2 584.1,349.1 585.1,349.0 586.1,349.0 587.1,349.0 588.1,349.0 589.1,349.0 590.1,349.0 591.1,348.9 592.1,348.9 593.1,348.8 594.1,348.7 595.1,348.6 596.1,348.6 597.1,348.6 598.1,348.6 599.1,348.5 600.1,348.5 601.1,348.4 602.1,348.4 603.1,348.4 604.1,348.4 605.1,348.5 606.1,348.6 607.1,348.8 608.1,349.0 609.1,349.1 610.1,349.2 611.1,349.2 612.1,349.2 613.1,349.2 614.1,349.3 615.1,349.3 616.1,349.4 617.1,349.3 618.1,349.3 619.1,349.1 620.1,348.9 621.1,348.7 622.1,348.6 623.1,348.5 624.1,348.6 625.1,348.7 626.1,348.9 627.1,349.1 628.1,349.2 629.1,349.3 630.1,349.3 631.1,349.2 632.1,349.2 633.1,349.2 634.1,349.1 635.1,349.1 636.1,349.2 637.1,349.3 638.1,349.4 639.1,349.6 640.1,349.7 641.1,349.8 642.1,349.8 643.1,349.7 644.1,349.5 645.1,349.3 646.1,349.1 647.1,349.0 648.1,349.0 649.1,349.0 650.1,349.1 651.1,349.2 652.1,349.3 653.1,349.3 654.1,349.3 655.1,349.2 656.1,349.2 657.1,349.2 658.1,349.1 659.1,349.0 660.1,348.9 661.1,348.8 662.1,348.7 663.1,348.5 664.1,348.3 665.1,348.1 666.1,348.0 667.1,347.9 668.1,347.8 669.1,347.8 670.1,347.9 671.1,347.9 672.1,348.0 673.1,348.1" fill="none" stroke="#2b5c94" stroke-width="3" stroke-linejoin="round" stroke-linecap="round"/>
<polyline points="70.1,499.9 71.1,499.9 72.1,500.0 73.1,500.1 74.1,500.2 75.1,500.3 76.1,500.4 77.1,500.5 78.1,500.5 79.1,500.5 80.1,500.5 81.1,500.4 82.1,500.3 83.1,500.2 84.1,500.1 85.1,500.1 86.1,500.1 87.1,500.1 88.1,500.1 89.1,500.1 90.1,500.1 91.1,500.1 92.1,500.1 93.1,500.1 94.1,500.1 95.1,500.1 96.1,500.1 97.1,500.1 98.1,500.1 99.1,500.1 100.1,500.1 101.1,500.0 102.1,500.0 103.1,499.9 104.1,499.9 105.1,499.9 106.1,499.9 107.1,499.9 108.1,499.9 109.1,499.9 110.1,500.0 111.1,500.1 112.1,500.1 113.1,500.2 114.1,500.3 115.1,500.3 116.1,500.3 117.1,500.3 118.1,500.2 119.1,500.1 120.1,500.0 121.1,499.9 122.1,499.7 123.1,499.6 124.1,499.5 125.1,499.4 126.1,499.3 127.1,499.3 128.1,499.3 129.1,499.3 130.1,499.3 131.1,499.4 132.1,499.5 133.1,499.6 134.1,499.7 135.1,499.8 136.1,499.9 137.1,500.0 138.1,500.0 139.1,500.1 140.1,500.1 141.1,500.1 142.1,500.1 143.1,500.1 144.1,500.1 145.1,500.1 146.1,500.0 147.1,500.0 148.1,499.8 149.1,499.7 150.1,499.6 151.1,499.4 152.1,499.3 153.1,499.3 154.1,499.2 155.1,499.2 156.1,499.2 157.1,499.1 158.1,499.1 159.1,499.1 160.1,499.0 161.1,499.1 162.1,499.1 163.1,499.1 164.1,499.2 165.1,499.3 166.1,499.4 167.1,499.5 168.1,499.5 169.1,499.6 170.1,499.6 171.1,499.7 172.1,499.8 173.1,499.9 174.1,500.1 175.1,500.3 176.1,500.4 177.1,500.6 178.1,500.7 179.1,500.8 180.1,500.8 181.1,500.8 182.1,500.8 183.1,500.7 184.1,500.6 185.1,500.5 186.1,500.4 187.1,500.2 188.1,500.0 189.1,499.9 190.1,499.7 191.1,499.5 192.1,499.4 193.1,499.4 194.1,499.5 195.1,499.6 196.1,499.7 197.1,499.8 198.1,499.9 199.1,499.9 200.1,499.8 201.1,499.7 202.1,499.6 203.1,499.5 204.1,499.4 205.1,499.4 206.1,499.4 207.1,499.4 208.1,499.5 209.1,499.5 210.1,499.5 211.1,499.6 212.1,499.6 213.1,499.7 214.1,499.8 215.1,499.9 216.1,500.0 217.1,500.0 218.1,500.1 219.1,500.1 220.1,500.1 221.1,500.1 222.1,500.1 223.1,500.1 224.1,500.1 225.1,500.1 226.1,500.0 227.1,500.0 228.1,499.9 229.1,499.8 230.1,499.7 231.1,499.6 232.1,499.5 233.1,499.4 234.1,499.3 235.1,499.2 236.1,499.2 237.1,499.1 238.1,499.0 239.1,498.9 240.1,498.8 241.1,498.7 242.1,498.7 243.1,498.7 244.1,498.7 245.1,498.9 246.1,499.1 247.1,499.4 248.1,499.6 249.1,499.8 250.1,500.0 251.1,500.2 252.1,500.3 253.1,500.4 254.1,500.4 255.1,500.4 256.1,500.6 257.1,500.6 258.1,500.5 259.1,500.3 260.1,500.3 261.1,500.5 262.1,500.9 263.1,501.4 264.1,501.6 265.1,501.6 266.1,501.2 267.1,500.8 268.1,500.6 269.1,500.7 270.1,501.4 271.1,502.2 272.1,503.0 273.1,503.4 274.1,503.3 275.1,502.7 276.1,502.1 277.1,501.8 278.1,501.9 279.1,502.3 280.1,502.9 281.1,503.2 282.1,503.2 283.1,502.7 284.1,502.0 285.1,501.4 286.1,501.0 287.1,500.9 288.1,501.0 289.1,501.0 290.1,500.9 291.1,500.6 292.1,500.3 293.1,499.7 294.1,498.2 295.1,493.9 296.1,485.9 297.1,474.9 298.1,462.5 299.1,449.6 300.1,436.7 301.1,423.7 302.1,410.8 303.1,398.6 304.1,389.4 305.0,386.4 305.1,386.3 306.1,391.5 307.1,402.4 308.1,415.8 309.1,429.9 310.1,444.1 311.1,458.2 312.1,472.0 313.1,484.2 314.1,492.9 315.1,497.5 316.1,499.1 317.1,499.3 318.1,499.2 319.1,499.2 320.1,499.2 321.1,499.3 322.1,499.5 323.1,499.7 324.1,500.1 325.1,500.4 326.1,500.6 327.1,500.8 328.1,500.9 329.1,500.9 330.1,500.8 331.1,500.7 332.1,500.5 333.1,500.2 334.1,500.0 335.1,499.9 336.1,499.8 337.1,499.7 338.1,499.7 339.1,499.6 340.1,499.6 341.1,499.5 342.1,499.5 343.1,499.5 344.1,499.6 345.1,499.7 346.1,499.9 347.1,500.1 348.1,500.3 349.1,500.3 350.1,500.3 351.1,500.2 352.1,500.1 353.1,500.0 354.1,499.9 355.1,499.8 356.1,499.8 357.1,499.9 358.1,499.9 359.1,499.9 360.1,499.9 361.1,500.0 362.1,500.0 363.1,500.0 364.1,500.0 365.1,500.0 366.1,499.9 367.1,499.9 368.1,499.8 369.1,499.7 370.1,499.6 371.1,499.6 372.1,499.5 373.1,499.5 374.1,499.4 375.1,499.4 376.1,499.3 377.1,499.3 378.1,499.3 379.1,499.3 380.1,499.4 381.1,499.5 382.1,499.6 383.1,499.8 384.1,500.0 385.1,500.2 386.1,500.4 387.1,500.5 388.1,500.6 389.1,500.6 390.1,500.6 391.1,500.5 392.1,500.4 393.1,500.3 394.1,500.1 395.1,500.0 396.1,499.8 397.1,499.6 398.1,499.5 399.1,499.3 400.1,499.2 401.1,499.2 402.1,499.1 403.1,499.0 404.1,499.0 405.1,498.9 406.1,498.9 407.1,499.0 408.1,499.1 409.1,499.2 410.1,499.4 411.1,499.5 412.1,499.7 413.1,499.8 414.1,499.8 415.1,499.8 416.1,499.8 417.1,499.7 418.1,499.7 419.1,499.7 420.1,499.7 421.1,499.8 422.1,499.9 423.1,500.0 424.1,500.0 425.1,500.1 426.1,500.1 427.1,500.1 428.1,500.1 429.1,500.1 430.1,500.1 431.1,500.1 432.1,500.1 433.1,500.0 434.1,499.9 435.1,499.9 436.1,499.8 437.1,499.8 438.1,499.8 439.1,499.9 440.1,500.0 441.1,500.1 442.1,500.2 443.1,500.2 444.1,500.2 445.1,500.2 446.1,500.2 447.1,500.2 448.1,500.2 449.1,500.2 450.1,500.2 451.1,500.1 452.1,500.1 453.1,500.1 454.1,500.1 455.1,500.1 456.1,500.2 457.1,500.2 458.1,500.2 459.1,500.2 460.1,500.1 461.1,500.1 462.1,500.0 463.1,499.9 464.1,499.8 465.1,499.8 466.1,499.8 467.1,499.9 468.1,500.0 469.1,500.1 470.1,500.2 471.1,500.2 472.1,500.2 473.1,500.2 474.1,500.1 475.1,500.1 476.1,500.1 477.1,500.0 478.1,500.1 479.1,500.1 480.1,500.2 481.1,500.2 482.1,500.2 483.1,500.3 484.1,500.3 485.1,500.3 486.1,500.3 487.1,500.3 488.1,500.3 489.1,500.3 490.1,500.2 491.1,500.2 492.1,500.3 493.1,500.3 494.1,500.3 495.1,500.3 496.1,500.3 497.1,500.3 498.1,500.2 499.1,500.1 500.1,500.1 501.1,500.0 502.1,499.9 503.1,499.9 504.1,499.8 505.1,499.8 506.1,499.7 507.1,499.6 508.1,499.5 509.1,499.3 510.1,499.2 511.1,499.1 512.1,499.1 513.1,499.1 514.1,499.2 515.1,499.3 516.1,499.4 517.1,499.5 518.1,499.7 519.1,499.8 520.1,499.8 521.1,499.8 522.1,499.8 523.1,499.7 524.1,499.6 525.1,499.5 526.1,499.5 527.1,499.5 528.1,499.5 529.1,499.6 530.1,499.6 531.1,499.7 532.1,499.7 533.1,499.7 534.1,499.6 535.1,499.6 536.1,499.5 537.1,499.5 538.1,499.5 539.1,499.6 540.1,499.7 541.1,499.8 542.1,499.9 543.1,500.0 544.1,500.1 545.1,500.2 546.1,500.2 547.1,500.2 548.1,500.2 549.1,500.2 550.1,500.1 551.1,500.1 552.1,500.1 553.1,500.1 554.1,500.1 555.1,500.1 556.1,500.1 557.1,500.1 558.1,500.1 559.1,500.2 560.1,500.2 561.1,500.3 562.1,500.3 563.1,500.4 564.1,500.5 565.1,500.6 566.1,500.7 567.1,500.8 568.1,500.8 569.1,500.9 570.1,500.9 571.1,500.8 572.1,500.8 573.1,500.7 574.1,500.5 575.1,500.3 576.1,500.2 577.1,500.0 578.1,499.8 579.1,499.7 580.1,499.7 581.1,499.7 582.1,499.8 583.1,499.9 584.1,500.0 585.1,500.0 586.1,500.1 587.1,500.2 588.1,500.3 589.1,500.3 590.1,500.4 591.1,500.5 592.1,500.5 593.1,500.5 594.1,500.4 595.1,500.4 596.1,500.4 597.1,500.4 598.1,500.4 599.1,500.4 600.1,500.4 601.1,500.4 602.1,500.3 603.1,500.2 604.1,500.0 605.1,499.9 606.1,499.8 607.1,499.7 608.1,499.7 609.1,499.7 610.1,499.7 611.1,499.8 612.1,499.9 613.1,500.1 614.1,500.2 615.1,500.2 616.1,500.3 617.1,500.3 618.1,500.2 619.1,500.1 620.1,500.1 621.1,500.0 622.1,500.0 623.1,499.9 624.1,499.9 625.1,499.8 626.1,499.8 627.1,499.7 628.1,499.6 629.1,499.6 630.1,499.6 631.1,499.6 632.1,499.7 633.1,499.8 634.1,499.8 635.1,499.9 636.1,499.9 637.1,500.0 638.1,500.1 639.1,500.1 640.1,500.2 641.1,500.3 642.1,500.3 643.1,500.4 644.1,500.3 645.1,500.3 646.1,500.2 647.1,500.1 648.1,499.9 649.1,499.8 650.1,499.8 651.1,499.8 652.1,499.8 653.1,499.9 654.1,500.0 655.1,500.1 656.1,500.1 657.1,500.2 658.1,500.2 659.1,500.2 660.1,500.2 661.1,500.1 662.1,500.0 663.1,499.9 664.1,499.8 665.1,499.7 666.1,499.6 667.1,499.6 668.1,499.6 669.1,499.6 670.1,499.7 671.1,499.7 672.1,499.8 673.1,499.8" fill="none" stroke="#ec0000" stroke-width="3" stroke-linejoin="round" stroke-linecap="round"/>
<polyline points="70.1,498.8 71.1,498.6 72.1,498.5 73.1,498.5 74.1,498.4 75.1,498.3 76.1,498.2 77.1,498.1 78.1,498.0 79.1,498.0 80.1,498.0 81.1,498.0 82.1,498.0 83.1,498.1 84.1,498.2 85.1,498.2 86.1,498.3 87.1,498.3 88.1,498.3 89.1,498.3 90.1,498.2 91.1,498.2 92.1,498.2 93.1,498.2 94.1,498.2 95.1,498.1 96.1,498.0 97.1,497.8 98.1,497.5 99.1,497.3 100.1,497.1 101.1,496.9 102.1,496.9 103.1,497.0 104.1,497.2 105.1,497.5 106.1,497.7 107.1,498.0 108.1,498.2 109.1,498.4 110.1,498.4 111.1,498.4 112.1,498.4 113.1,498.3 114.1,498.2 115.1,498.1 116.1,498.1 117.1,498.1 118.1,498.2 119.1,498.4 120.1,498.6 121.1,498.8 122.1,499.0 123.1,499.1 124.1,499.2 125.1,499.2 126.1,499.1 127.1,499.0 128.1,498.7 129.1,498.5 130.1,498.2 131.1,498.0 132.1,497.9 133.1,497.8 134.1,497.9 135.1,498.1 136.1,498.3 137.1,498.6 138.1,498.9 139.1,499.1 140.1,499.2 141.1,499.2 142.1,499.2 143.1,499.1 144.1,498.9 145.1,498.8 146.1,498.6 147.1,498.4 148.1,498.3 149.1,498.1 150.1,498.1 151.1,498.0 152.1,498.1 153.1,498.1 154.1,498.2 155.1,498.2 156.1,498.2 157.1,498.1 158.1,498.1 159.1,498.0 160.1,497.9 161.1,497.8 162.1,497.8 163.1,497.9 164.1,497.9 165.1,498.0 166.1,498.1 167.1,498.2 168.1,498.3 169.1,498.4 170.1,498.4 171.1,498.4 172.1,498.4 173.1,498.4 174.1,498.4 175.1,498.4 176.1,498.5 177.1,498.6 178.1,498.6 179.1,498.7 180.1,498.7 181.1,498.8 182.1,498.8 183.1,498.8 184.1,498.8 185.1,498.8 186.1,498.8 187.1,498.7 188.1,498.7 189.1,498.6 190.1,498.5 191.1,498.4 192.1,498.3 193.1,498.2 194.1,498.1 195.1,498.1 196.1,498.0 197.1,497.9 198.1,497.9 199.1,497.9 200.1,497.9 201.1,498.1 202.1,498.3 203.1,498.5 204.1,498.8 205.1,499.1 206.1,499.2 207.1,499.3 208.1,499.3 209.1,499.3 210.1,499.1 211.1,499.0 212.1,498.8 213.1,498.7 214.1,498.6 215.1,498.6 216.1,498.5 217.1,498.5 218.1,498.4 219.1,498.4 220.1,498.3 221.1,498.3 222.1,498.3 223.1,498.4 224.1,498.5 225.1,498.6 226.1,498.6 227.1,498.6 228.1,498.5 229.1,498.4 230.1,498.3 231.1,498.2 232.1,498.1 233.1,498.1 234.1,498.0 235.1,498.0 236.1,497.9 237.1,497.9 238.1,497.8 239.1,497.7 240.1,497.7 241.1,497.6 242.1,497.6 243.1,497.6 244.1,497.6 245.1,497.7 246.1,497.8 247.1,497.9 248.1,498.0 249.1,498.0 250.1,498.0 251.1,498.1 252.1,498.1 253.1,498.1 254.1,498.2 255.1,498.3 256.1,498.3 257.1,498.3 258.1,498.3 259.1,498.3 260.1,498.3 261.1,498.3 262.1,498.4 263.1,498.5 264.1,498.6 265.1,498.7 266.1,498.8 267.1,498.9 268.1,499.0 269.1,499.0 270.1,499.0 271.1,498.9 272.1,498.8 273.1,498.7 274.1,498.7 275.1,498.6 276.1,498.5 277.1,498.5 278.1,498.4 279.1,498.3 280.1,498.2 281.1,498.0 282.1,497.9 283.1,497.8 284.1,497.8 285.1,497.8 286.1,497.9 287.1,498.1 288.1,498.2 289.1,498.4 290.1,498.6 291.1,498.7 292.1,498.9 293.1,499.1 294.1,499.2 295.1,499.4 296.1,499.5 297.1,499.6 298.1,499.7 299.1,499.7 300.1,499.6 301.1,499.5 302.1,499.3 303.1,499.2 304.1,499.0 305.1,498.9 306.1,498.8 307.1,498.7 308.1,498.7 309.1,498.7 310.1,498.8 311.1,498.8 312.1,498.8 313.1,498.8 314.1,498.7 315.1,498.6 316.1,498.5 317.1,498.4 318.1,498.3 319.1,498.2 320.1,498.2 321.1,498.2 322.1,498.2 323.1,498.2 324.1,498.2 325.1,498.2 326.1,498.2 327.1,498.2 328.1,498.2 329.1,498.2 330.1,498.2 331.1,498.2 332.1,498.2 333.1,498.2 334.1,498.3 335.1,498.4 336.1,498.5 337.1,498.6 338.1,498.8 339.1,498.9 340.1,499.1 341.1,499.2 342.1,499.3 343.1,499.4 344.1,499.5 345.1,499.5 346.1,499.4 347.1,499.4 348.1,499.3 349.1,499.2 350.1,499.1 351.1,499.0 352.1,498.9 353.1,498.8 354.1,498.7 355.1,498.6 356.1,498.6 357.1,498.6 358.1,498.6 359.1,498.7 360.1,498.8 361.1,499.0 362.1,499.0 363.1,499.1 364.1,499.1 365.1,499.0 366.1,498.9 367.1,498.8 368.1,498.7 369.1,498.7 370.1,498.6 371.1,498.6 372.1,498.6 373.1,498.5 374.1,498.5 375.1,498.5 376.1,498.5 377.1,498.5 378.1,498.5 379.1,498.5 380.1,498.6 381.1,498.6 382.1,498.6 383.1,498.6 384.1,498.6 385.1,498.6 386.1,498.5 387.1,498.3 388.1,498.2 389.1,498.1 390.1,498.0 391.1,497.9 392.1,497.9 393.1,498.0 394.1,498.1 395.1,498.1 396.1,498.2 397.1,498.3 398.1,498.3 399.1,498.4 400.1,498.4 401.1,498.5 402.1,498.6 403.1,498.6 404.1,498.6 405.1,498.5 406.1,498.4 407.1,498.4 408.1,498.3 409.1,498.3 410.1,498.2 411.1,498.2 412.1,498.2 413.1,498.2 414.1,498.1 415.1,498.1 416.1,498.1 417.1,498.1 418.1,498.0 419.1,498.0 420.1,497.9 421.1,497.8 422.1,497.7 423.1,497.7 424.1,497.8 425.1,497.8 426.1,498.0 427.1,498.1 428.1,498.2 429.1,498.3 430.1,498.3 431.1,498.3 432.1,498.3 433.1,498.3 434.1,498.3 435.1,497.9 436.1,496.2 437.1,491.6 438.1,483.1 439.1,471.7 440.1,458.9 441.1,445.8 442.1,432.6 443.1,419.5 444.1,406.6 445.1,394.8 446.1,386.4 446.9,384.5 447.1,385.1 448.1,391.3 449.1,403.0 450.1,416.7 451.1,430.9 452.1,445.1 453.1,459.2 454.1,472.8 455.1,484.8 456.1,493.3 457.1,497.7 458.1,499.2 459.1,499.6 460.1,499.6 461.1,499.5 462.1,499.3 463.1,499.1 464.1,498.9 465.1,498.8 466.1,498.8 467.1,498.8 468.1,498.9 469.1,499.0 470.1,499.0 471.1,499.0 472.1,499.0 473.1,499.0 474.1,499.0 475.1,499.0 476.1,498.9 477.1,498.9 478.1,498.8 479.1,498.7 480.1,498.6 481.1,498.5 482.1,498.4 483.1,498.3 484.1,498.3 485.1,498.3 486.1,498.4 487.1,498.4 488.1,498.4 489.1,498.4 490.1,498.3 491.1,498.1 492.1,498.0 493.1,497.9 494.1,497.7 495.1,497.6 496.1,497.5 497.1,497.4 498.1,497.3 499.1,497.2 500.1,497.2 501.1,497.3 502.1,497.4 503.1,497.5 504.1,497.7 505.1,497.9 506.1,498.2 507.1,498.4 508.1,498.7 509.1,498.9 510.1,499.1 511.1,499.3 512.1,499.3 513.1,499.3 514.1,499.2 515.1,499.1 516.1,498.9 517.1,498.8 518.1,498.6 519.1,498.5 520.1,498.4 521.1,498.4 522.1,498.4 523.1,498.5 524.1,498.5 525.1,498.6 526.1,498.6 527.1,498.6 528.1,498.6 529.1,498.5 530.1,498.4 531.1,498.3 532.1,498.2 533.1,498.1 534.1,498.0 535.1,498.0 536.1,498.0 537.1,498.1 538.1,498.1 539.1,498.1 540.1,498.1 541.1,498.1 542.1,498.2 543.1,498.2 544.1,498.4 545.1,498.5 546.1,498.6 547.1,498.8 548.1,498.9 549.1,498.9 550.1,498.9 551.1,498.8 552.1,498.7 553.1,498.6 554.1,498.5 555.1,498.6 556.1,498.7 557.1,499.0 558.1,499.3 559.1,499.6 560.1,499.8 561.1,500.0 562.1,500.0 563.1,499.9 564.1,499.7 565.1,499.5 566.1,499.2 567.1,499.0 568.1,498.7 569.1,498.6 570.1,498.4 571.1,498.3 572.1,498.3 573.1,498.3 574.1,498.3 575.1,498.3 576.1,498.2 577.1,498.2 578.1,498.1 579.1,498.0 580.1,497.9 581.1,497.8 582.1,497.7 583.1,497.7 584.1,497.7 585.1,497.8 586.1,497.8 587.1,497.9 588.1,498.0 589.1,498.1 590.1,498.2 591.1,498.3 592.1,498.3 593.1,498.3 594.1,498.3 595.1,498.2 596.1,498.1 597.1,498.0 598.1,497.9 599.1,497.8 600.1,497.8 601.1,497.8 602.1,497.8 603.1,498.0 604.1,498.1 605.1,498.3 606.1,498.4 607.1,498.5 608.1,498.6 609.1,498.6 610.1,498.6 611.1,498.7 612.1,498.7 613.1,498.7 614.1,498.7 615.1,498.7 616.1,498.8 617.1,498.9 618.1,498.9 619.1,499.0 620.1,499.0 621.1,499.0 622.1,498.9 623.1,498.9 624.1,498.9 625.1,498.9 626.1,498.9 627.1,498.8 628.1,498.8 629.1,498.8 630.1,498.7 631.1,498.7 632.1,498.7 633.1,498.7 634.1,498.8 635.1,498.8 636.1,498.9 637.1,498.9 638.1,498.9 639.1,498.8 640.1,498.8 641.1,498.7 642.1,498.6 643.1,498.6 644.1,498.5 645.1,498.4 646.1,498.3 647.1,498.2 648.1,498.1 649.1,498.0 650.1,497.8 651.1,497.7 652.1,497.7 653.1,497.7 654.1,497.8 655.1,497.9 656.1,498.1 657.1,498.4 658.1,498.6 659.1,498.8 660.1,499.0 661.1,499.1 662.1,499.1 663.1,499.1 664.1,499.1 665.1,499.0 666.1,498.9 667.1,498.9 668.1,498.8 669.1,498.8 670.1,498.8 671.1,498.7 672.1,498.7 673.1,498.6" fill="none" stroke="#32be68" stroke-width="3" stroke-linejoin="round" stroke-linecap="round"/>
<polyline points="70.1,500.9 71.1,500.9 72.1,500.8 73.1,500.7 74.1,500.5 75.1,500.3 76.1,500.1 77.1,499.8 78.1,499.6 79.1,499.5 80.1,499.4 81.1,499.4 82.1,499.4 83.1,499.5 84.1,499.6 85.1,499.7 86.1,499.8 87.1,499.9 88.1,499.9 89.1,499.9 90.1,499.9 91.1,499.9 92.1,499.9 93.1,500.0 94.1,500.1 95.1,500.3 96.1,500.5 97.1,500.8 98.1,501.0 99.1,501.1 100.1,501.3 101.1,501.3 102.1,501.3 103.1,501.2 104.1,501.0 105.1,500.8 106.1,500.6 107.1,500.4 108.1,500.2 109.1,500.1 110.1,500.0 111.1,499.9 112.1,499.9 113.1,499.9 114.1,499.9 115.1,499.9 116.1,499.9 117.1,499.9 118.1,499.9 119.1,499.9 120.1,499.9 121.1,500.0 122.1,500.1 123.1,500.1 124.1,500.2 125.1,500.2 126.1,500.2 127.1,500.2 128.1,500.2 129.1,500.1 130.1,500.1 131.1,500.1 132.1,500.1 133.1,500.1 134.1,500.1 135.1,500.2 136.1,500.2 137.1,500.3 138.1,500.4 139.1,500.6 140.1,500.7 141.1,500.9 142.1,501.0 143.1,501.1 144.1,501.0 145.1,500.9 146.1,500.7 147.1,500.5 148.1,500.2 149.1,500.0 150.1,499.9 151.1,499.9 152.1,499.9 153.1,500.0 154.1,500.2 155.1,500.4 156.1,500.5 157.1,500.7 158.1,500.8 159.1,500.9 160.1,500.9 161.1,500.9 162.1,500.9 163.1,500.9 164.1,500.9 165.1,500.9 166.1,500.8 167.1,500.7 168.1,500.6 169.1,500.5 170.1,500.5 171.1,500.5 172.1,500.5 173.1,500.6 174.1,500.6 175.1,500.6 176.1,500.5 177.1,500.4 178.1,500.2 179.1,500.0 180.1,499.7 181.1,499.5 182.1,499.4 183.1,499.3 184.1,499.2 185.1,499.2 186.1,499.2 187.1,499.3 188.1,499.3 189.1,499.3 190.1,499.3 191.1,499.4 192.1,499.5 193.1,499.7 194.1,499.9 195.1,500.2 196.1,500.5 197.1,500.7 198.1,500.9 199.1,501.0 200.1,501.1 201.1,501.1 202.1,501.0 203.1,500.9 204.1,500.8 205.1,500.7 206.1,500.7 207.1,500.7 208.1,500.8 209.1,500.8 210.1,500.8 211.1,500.8 212.1,500.7 213.1,500.7 214.1,500.6 215.1,500.6 216.1,500.7 217.1,500.8 218.1,500.9 219.1,501.0 220.1,501.0 221.1,500.9 222.1,500.7 223.1,500.5 224.1,500.2 225.1,500.0 226.1,499.8 227.1,499.7 228.1,499.7 229.1,499.8 230.1,500.0 231.1,500.1 232.1,500.3 233.1,500.5 234.1,500.6 235.1,500.7 236.1,500.7 237.1,500.7 238.1,500.7 239.1,500.7 240.1,500.6 241.1,500.6 242.1,500.6 243.1,500.5 244.1,500.4 245.1,500.3 246.1,500.2 247.1,500.1 248.1,500.0 249.1,499.8 250.1,499.7 251.1,499.6 252.1,499.6 253.1,499.5 254.1,499.4 255.1,499.3 256.1,499.2 257.1,499.1 258.1,499.1 259.1,499.2 260.1,499.4 261.1,499.7 262.1,500.0 263.1,500.4 264.1,500.8 265.1,501.1 266.1,501.3 267.1,501.4 268.1,501.4 269.1,501.3 270.1,501.2 271.1,501.0 272.1,500.8 273.1,500.6 274.1,500.5 275.1,500.4 276.1,500.3 277.1,500.3 278.1,500.3 279.1,500.3 280.1,500.4 281.1,500.5 282.1,500.5 283.1,500.5 284.1,500.6 285.1,500.6 286.1,500.6 287.1,500.7 288.1,500.7 289.1,500.8 290.1,500.8 291.1,500.8 292.1,500.7 293.1,500.7 294.1,500.6 295.1,500.5 296.1,500.4 297.1,500.3 298.1,500.3 299.1,500.2 300.1,500.1 301.1,500.0 302.1,500.0 303.1,499.9 304.1,499.9 305.1,500.0 306.1,500.1 307.1,500.2 308.1,500.3 309.1,500.4 310.1,500.4 311.1,500.5 312.1,500.5 313.1,500.6 314.1,500.6 315.1,500.6 316.1,500.7 317.1,500.8 318.1,500.8 319.1,500.9 320.1,501.0 321.1,501.0 322.1,500.9 323.1,500.8 324.1,500.6 325.1,500.4 326.1,500.2 327.1,500.0 328.1,499.9 329.1,499.8 330.1,499.8 331.1,499.9 332.1,500.0 333.1,500.1 334.1,500.2 335.1,500.2 336.1,500.2 337.1,500.1 338.1,500.0 339.1,500.0 340.1,499.9 341.1,500.0 342.1,500.1 343.1,500.2 344.1,500.3 345.1,500.4 346.1,500.4 347.1,500.4 348.1,500.3 349.1,500.2 350.1,500.0 351.1,499.9 352.1,499.8 353.1,499.8 354.1,499.8 355.1,499.8 356.1,499.8 357.1,499.8 358.1,499.8 359.1,499.8 360.1,499.8 361.1,499.7 362.1,499.7 363.1,499.8 364.1,499.8 365.1,499.8 366.1,499.8 367.1,499.9 368.1,499.9 369.1,500.0 370.1,500.1 371.1,500.1 372.1,500.1 373.1,500.1 374.1,500.0 375.1,499.8 376.1,499.7 377.1,499.5 378.1,499.3 379.1,499.2 380.1,499.1 381.1,499.1 382.1,499.1 383.1,499.1 384.1,499.2 385.1,499.2 386.1,498.7 387.1,496.4 388.1,490.7 389.1,481.3 390.1,469.5 391.1,456.7 392.1,443.7 393.1,430.7 394.1,417.7 395.1,405.1 396.1,393.8 397.1,386.9 397.6,386.2 398.1,387.4 399.1,395.5 400.1,407.9 401.1,421.8 402.1,436.0 403.1,450.3 404.1,464.4 405.1,477.7 406.1,488.8 407.1,495.8 408.1,498.9 409.1,499.7 410.1,499.8 411.1,499.7 412.1,499.6 413.1,499.6 414.1,499.6 415.1,499.7 416.1,499.8 417.1,499.9 418.1,500.0 419.1,500.1 420.1,500.1 421.1,500.1 422.1,500.2 423.1,500.1 424.1,500.1 425.1,500.0 426.1,499.9 427.1,499.8 428.1,499.8 429.1,499.7 430.1,499.6 431.1,499.6 432.1,499.6 433.1,499.6 434.1,499.6 435.1,499.6 436.1,499.5 437.1,499.5 438.1,499.5 439.1,499.4 440.1,499.5 441.1,499.5 442.1,499.6 443.1,499.8 444.1,500.0 445.1,500.2 446.1,500.5 447.1,500.7 448.1,500.8 449.1,500.9 450.1,501.0 451.1,501.0 452.1,501.0 453.1,501.0 454.1,500.9 455.1,500.8 456.1,500.6 457.1,500.4 458.1,500.2 459.1,499.9 460.1,499.8 461.1,499.6 462.1,499.6 463.1,499.7 464.1,499.8 465.1,500.0 466.1,500.2 467.1,500.4 468.1,500.5 469.1,500.6 470.1,500.7 471.1,500.7 472.1,500.7 473.1,500.6 474.1,500.6 475.1,500.6 476.1,500.5 477.1,500.5 478.1,500.4 479.1,500.3 480.1,500.3 481.1,500.2 482.1,500.2 483.1,500.2 484.1,500.3 485.1,500.3 486.1,500.3 487.1,500.3 488.1,500.2 489.1,500.1 490.1,499.9 491.1,499.8 492.1,499.7 493.1,499.8 494.1,499.9 495.1,500.0 496.1,500.2 497.1,500.4 498.1,500.5 499.1,500.6 500.1,500.7 501.1,500.7 502.1,500.8 503.1,500.9 504.1,501.0 505.1,501.0 506.1,501.1 507.1,501.1 508.1,501.0 509.1,500.9 510.1,500.6 511.1,500.4 512.1,500.1 513.1,499.9 514.1,499.7 515.1,499.5 516.1,499.4 517.1,499.4 518.1,499.4 519.1,499.4 520.1,499.5 521.1,499.6 522.1,499.7 523.1,499.8 524.1,499.9 525.1,499.9 526.1,499.9 527.1,499.9 528.1,499.9 529.1,499.9 530.1,499.8 531.1,499.8 532.1,499.8 533.1,499.9 534.1,499.9 535.1,499.9 536.1,500.0 537.1,500.0 538.1,500.0 539.1,499.9 540.1,499.9 541.1,499.8 542.1,499.7 543.1,499.7 544.1,499.6 545.1,499.6 546.1,499.6 547.1,499.6 548.1,499.5 549.1,499.5 550.1,499.5 551.1,499.5 552.1,499.6 553.1,499.6 554.1,499.7 555.1,499.9 556.1,500.0 557.1,500.2 558.1,500.3 559.1,500.4 560.1,500.5 561.1,500.5 562.1,500.6 563.1,500.6 564.1,500.7 565.1,500.7 566.1,500.7 567.1,500.6 568.1,500.5 569.1,500.3 570.1,500.2 571.1,500.0 572.1,499.8 573.1,499.7 574.1,499.6 575.1,499.5 576.1,499.5 577.1,499.6 578.1,499.7 579.1,499.8 580.1,499.9 581.1,499.9 582.1,499.9 583.1,499.9 584.1,499.9 585.1,499.9 586.1,499.9 587.1,499.8 588.1,499.8 589.1,499.8 590.1,499.9 591.1,500.0 592.1,500.2 593.1,500.5 594.1,500.8 595.1,501.0 596.1,501.2 597.1,501.4 598.1,501.4 599.1,501.3 600.1,501.2 601.1,501.0 602.1,500.8 603.1,500.6 604.1,500.5 605.1,500.4 606.1,500.4 607.1,500.4 608.1,500.5 609.1,500.6 610.1,500.7 611.1,500.8 612.1,500.9 613.1,500.9 614.1,500.9 615.1,500.9 616.1,500.8 617.1,500.8 618.1,500.7 619.1,500.6 620.1,500.5 621.1,500.4 622.1,500.4 623.1,500.3 624.1,500.3 625.1,500.4 626.1,500.5 627.1,500.6 628.1,500.7 629.1,500.9 630.1,500.9 631.1,501.0 632.1,501.0 633.1,500.9 634.1,500.8 635.1,500.7 636.1,500.6 637.1,500.5 638.1,500.4 639.1,500.3 640.1,500.2 641.1,500.1 642.1,500.0 643.1,499.9 644.1,499.8 645.1,499.7 646.1,499.7 647.1,499.7 648.1,499.7 649.1,499.8 650.1,499.9 651.1,500.0 652.1,500.1 653.1,500.2 654.1,500.2 655.1,500.3 656.1,500.3 657.1,500.3 658.1,500.3 659.1,500.3 660.1,500.3 661.1,500.4 662.1,500.5 663.1,500.5 664.1,500.6 665.1,500.6 666.1,500.6 667.1,500.6 668.1,500.7 669.1,500.7 670.1,500.8 671.1,500.9 672.1,501.0 673.1,501.1" fill="none" stroke="#ffc000" stroke-width="3" stroke-linejoin="round" stroke-linecap="round"/>
<polyline points="70.1,499.1 71.1,499.0 72.1,499.0 73.1,498.9 74.1,498.9 75.1,498.9 76.1,498.9 77.1,498.9 78.1,499.0 79.1,499.0 80.1,499.1 81.1,499.2 82.1,499.3 83.1,499.5 84.1,499.7 85.1,499.9 86.1,500.2 87.1,500.3 88.1,500.4 89.1,500.5 90.1,500.5 91.1,500.4 92.1,500.3 93.1,500.2 94.1,500.0 95.1,499.8 96.1,499.5 97.1,499.2 98.1,499.0 99.1,498.8 100.1,498.6 101.1,498.5 102.1,498.5 103.1,498.5 104.1,498.6 105.1,498.8 106.1,498.9 107.1,499.0 108.1,499.2 109.1,499.3 110.1,499.3 111.1,499.3 112.1,499.3 113.1,499.3 114.1,499.3 115.1,499.3 116.1,499.3 117.1,499.4 118.1,499.4 119.1,499.5 120.1,499.7 121.1,499.8 122.1,499.9 123.1,500.0 124.1,500.1 125.1,500.1 126.1,500.1 127.1,500.1 128.1,500.1 129.1,500.0 130.1,500.0 131.1,499.9 132.1,499.8 133.1,499.7 134.1,499.6 135.1,499.5 136.1,499.4 137.1,499.4 138.1,499.5 139.1,499.6 140.1,499.7 141.1,499.8 142.1,500.0 143.1,500.1 144.1,500.2 145.1,500.2 146.1,500.2 147.1,500.1 148.1,500.0 149.1,500.0 150.1,499.9 151.1,500.0 152.1,500.0 153.1,500.2 154.1,500.4 155.1,500.6 156.1,500.8 157.1,501.0 158.1,501.2 159.1,501.3 160.1,501.3 161.1,501.1 162.1,500.9 163.1,500.6 164.1,500.3 165.1,500.0 166.1,499.8 167.1,499.6 168.1,499.6 169.1,499.6 170.1,499.7 171.1,499.8 172.1,499.8 173.1,499.9 174.1,499.9 175.1,499.9 176.1,499.9 177.1,499.9 178.1,499.8 179.1,499.8 180.1,499.7 181.1,499.7 182.1,499.7 183.1,499.8 184.1,500.0 185.1,500.2 186.1,500.4 187.1,500.6 188.1,500.7 189.1,500.7 190.1,500.5 191.1,500.2 192.1,499.8 193.1,499.5 194.1,499.2 195.1,498.9 196.1,498.8 197.1,498.7 198.1,498.7 199.1,498.8 200.1,498.8 201.1,498.9 202.1,499.0 203.1,499.0 204.1,499.0 205.1,499.0 206.1,499.0 207.1,499.0 208.1,498.9 209.1,498.9 210.1,499.0 211.1,499.0 212.1,499.1 213.1,499.1 214.1,499.2 215.1,499.2 216.1,499.3 217.1,499.3 218.1,499.4 219.1,499.6 220.1,499.7 221.1,499.7 222.1,499.7 223.1,499.7 224.1,499.6 225.1,499.6 226.1,499.6 227.1,499.6 228.1,499.7 229.1,499.9 230.1,500.0 231.1,500.2 232.1,500.3 233.1,500.2 234.1,500.1 235.1,499.9 236.1,499.7 237.1,499.3 238.1,499.0 239.1,498.7 240.1,498.4 241.1,498.2 242.1,498.1 243.1,498.1 244.1,498.1 245.1,498.3 246.1,498.5 247.1,498.7 248.1,498.9 249.1,499.1 250.1,499.2 251.1,499.4 252.1,499.5 253.1,499.5 254.1,499.6 255.1,499.7 256.1,499.8 257.1,499.9 258.1,499.9 259.1,500.0 260.1,500.0 261.1,500.0 262.1,500.0 263.1,500.0 264.1,499.9 265.1,499.9 266.1,499.8 267.1,499.8 268.1,499.9 269.1,500.1 270.1,500.3 271.1,500.5 272.1,500.7 273.1,500.8 274.1,500.8 275.1,500.6 276.1,500.3 277.1,499.9 278.1,499.5 279.1,499.1 280.1,498.7 281.1,498.5 282.1,498.3 283.1,498.2 284.1,498.2 285.1,498.2 286.1,498.4 287.1,498.5 288.1,498.8 289.1,499.0 290.1,499.2 291.1,499.5 292.1,499.7 293.1,499.9 294.1,500.0 295.1,500.0 296.1,500.0 297.1,499.8 298.1,499.6 299.1,499.4 300.1,499.1 301.1,498.9 302.1,498.8 303.1,498.7 304.1,498.8 305.1,499.0 306.1,499.3 307.1,499.5 308.1,499.7 309.1,499.7 310.1,499.7 311.1,499.7 312.1,499.7 313.1,499.7 314.1,499.8 315.1,499.9 316.1,500.1 317.1,500.2 318.1,500.2 319.1,500.2 320.1,500.1 321.1,500.1 322.1,500.1 323.1,500.2 324.1,500.4 325.1,500.6 326.1,500.8 327.1,500.9 328.1,501.0 329.1,501.0 330.1,500.9 331.1,500.8 332.1,500.6 333.1,500.5 334.1,500.3 335.1,500.2 336.1,500.1 337.1,500.0 338.1,499.9 339.1,499.9 340.1,499.8 341.1,499.7 342.1,499.6 343.1,499.5 344.1,499.4 345.1,499.2 346.1,498.7 347.1,496.8 348.1,491.9 349.1,483.1 350.1,471.6 351.1,458.9 352.1,445.9 353.1,432.8 354.1,419.6 355.1,406.7 356.1,395.0 357.1,387.0 357.8,385.5 358.1,386.2 359.1,393.1 360.1,405.1 361.1,419.0 362.1,433.2 363.1,447.5 364.1,461.7 365.1,475.2 366.1,486.8 367.1,494.7 368.1,498.5 369.1,499.6 370.1,499.7 371.1,499.6 372.1,499.6 373.1,499.5 374.1,499.5 375.1,499.5 376.1,499.5 377.1,499.4 378.1,499.4 379.1,499.3 380.1,499.2 381.1,499.1 382.1,499.0 383.1,498.9 384.1,498.7 385.1,498.6 386.1,498.5 387.1,498.4 388.1,498.5 389.1,498.7 390.1,498.9 391.1,499.2 392.1,499.5 393.1,499.8 394.1,500.0 395.1,500.2 396.1,500.4 397.1,500.6 398.1,500.7 399.1,500.8 400.1,500.9 401.1,500.9 402.1,500.9 403.1,500.8 404.1,500.7 405.1,500.5 406.1,500.3 407.1,500.1 408.1,499.9 409.1,499.6 410.1,499.5 411.1,499.3 412.1,499.2 413.1,499.1 414.1,499.0 415.1,498.9 416.1,498.9 417.1,498.9 418.1,498.8 419.1,498.8 420.1,498.9 421.1,499.0 422.1,499.1 423.1,499.3 424.1,499.6 425.1,499.9 426.1,500.3 427.1,500.6 428.1,500.9 429.1,501.1 430.1,501.2 431.1,501.3 432.1,501.3 433.1,501.2 434.1,501.2 435.1,501.1 436.1,501.0 437.1,500.9 438.1,500.9 439.1,500.8 440.1,500.8 441.1,500.8 442.1,500.9 443.1,500.9 444.1,500.9 445.1,500.9 446.1,500.8 447.1,500.6 448.1,500.5 449.1,500.3 450.1,500.1 451.1,500.0 452.1,499.9 453.1,500.0 454.1,500.1 455.1,500.2 456.1,500.3 457.1,500.4 458.1,500.4 459.1,500.4 460.1,500.4 461.1,500.4 462.1,500.5 463.1,500.6 464.1,500.7 465.1,500.8 466.1,500.9 467.1,501.1 468.1,501.1 469.1,501.1 470.1,501.1 471.1,501.1 472.1,501.0 473.1,500.9 474.1,500.8 475.1,500.7 476.1,500.6 477.1,500.5 478.1,500.4 479.1,500.2 480.1,500.0 481.1,499.9 482.1,499.7 483.1,499.7 484.1,499.6 485.1,499.6 486.1,499.6 487.1,499.6 488.1,499.5 489.1,499.5 490.1,499.4 491.1,499.3 492.1,499.1 493.1,499.1 494.1,499.0 495.1,499.0 496.1,498.9 497.1,498.9 498.1,498.9 499.1,498.9 500.1,499.0 501.1,499.0 502.1,499.1 503.1,499.2 504.1,499.2 505.1,499.3 506.1,499.3 507.1,499.3 508.1,499.4 509.1,499.4 510.1,499.5 511.1,499.6 512.1,499.7 513.1,499.9 514.1,500.1 515.1,500.3 516.1,500.4 517.1,500.5 518.1,500.4 519.1,500.2 520.1,500.0 521.1,499.6 522.1,499.2 523.1,498.8 524.1,498.5 525.1,498.3 526.1,498.2 527.1,498.3 528.1,498.5 529.1,498.9 530.1,499.2 531.1,499.5 532.1,499.8 533.1,500.0 534.1,500.1 535.1,500.2 536.1,500.1 537.1,500.1 538.1,500.0 539.1,500.0 540.1,500.0 541.1,500.1 542.1,500.3 543.1,500.5 544.1,500.7 545.1,500.8 546.1,500.8 547.1,500.7 548.1,500.5 549.1,500.3 550.1,500.0 551.1,499.7 552.1,499.4 553.1,499.2 554.1,499.1 555.1,499.1 556.1,499.2 557.1,499.4 558.1,499.7 559.1,499.9 560.1,500.1 561.1,500.2 562.1,500.2 563.1,500.2 564.1,500.1 565.1,499.9 566.1,499.8 567.1,499.7 568.1,499.6 569.1,499.5 570.1,499.4 571.1,499.3 572.1,499.2 573.1,499.1 574.1,499.0 575.1,498.9 576.1,498.8 577.1,498.8 578.1,498.7 579.1,498.7 580.1,498.8 581.1,498.8 582.1,498.9 583.1,499.1 584.1,499.3 585.1,499.5 586.1,499.8 587.1,500.0 588.1,500.3 589.1,500.6 590.1,500.8 591.1,501.0 592.1,501.2 593.1,501.3 594.1,501.5 595.1,501.6 596.1,501.8 597.1,501.9 598.1,501.9 599.1,502.0 600.1,502.0 601.1,502.0 602.1,502.0 603.1,502.0 604.1,501.9 605.1,501.8 606.1,501.6 607.1,501.5 608.1,501.3 609.1,501.2 610.1,501.0 611.1,500.7 612.1,500.5 613.1,500.2 614.1,500.0 615.1,499.7 616.1,499.6 617.1,499.5 618.1,499.4 619.1,499.4 620.1,499.4 621.1,499.5 622.1,499.5 623.1,499.5 624.1,499.5 625.1,499.5 626.1,499.4 627.1,499.4 628.1,499.3 629.1,499.2 630.1,499.2 631.1,499.2 632.1,499.3 633.1,499.5 634.1,499.7 635.1,499.9 636.1,500.1 637.1,500.2 638.1,500.3 639.1,500.4 640.1,500.4 641.1,500.4 642.1,500.4 643.1,500.4 644.1,500.4 645.1,500.3 646.1,500.2 647.1,500.0 648.1,499.9 649.1,499.7 650.1,499.5 651.1,499.3 652.1,499.1 653.1,498.9 654.1,498.8 655.1,498.8 656.1,498.9 657.1,499.1 658.1,499.3 659.1,499.5 660.1,499.7 661.1,499.8 662.1,499.9 663.1,499.9 664.1,499.9 665.1,499.8 666.1,499.7 667.1,499.7 668.1,499.7 669.1,499.7 670.1,499.8 671.1,499.9 672.1,500.0 673.1,500.1" fill="none" stroke="#2b5c94" stroke-width="3" stroke-linejoin="round" stroke-linecap="round"/>
<path d="M69.6,36.7 H673.6 V512.2 H69.6 Z" fill="none" stroke="#000" stroke-width="2.3"/>
<line x1="69.6" y1="512.2" x2="69.6" y2="501.2" stroke="#000" stroke-width="2"/>
<text x="70.2" y="553" font-size="34" text-anchor="middle">3.0</text>
<line x1="130.0" y1="512.2" x2="130.0" y2="506.7" stroke="#000" stroke-width="2"/>
<line x1="190.4" y1="512.2" x2="190.4" y2="501.2" stroke="#000" stroke-width="2"/>
<text x="191.0" y="553" font-size="34" text-anchor="middle">3.1</text>
<line x1="250.8" y1="512.2" x2="250.8" y2="506.7" stroke="#000" stroke-width="2"/>
<line x1="311.2" y1="512.2" x2="311.2" y2="501.2" stroke="#000" stroke-width="2"/>
<text x="311.8" y="553" font-size="34" text-anchor="middle">3.2</text>
<line x1="371.6" y1="512.2" x2="371.6" y2="506.7" stroke="#000" stroke-width="2"/>
<line x1="432.0" y1="512.2" x2="432.0" y2="501.2" stroke="#000" stroke-width="2"/>
<text x="432.6" y="553" font-size="34" text-anchor="middle">3.3</text>
<line x1="492.4" y1="512.2" x2="492.4" y2="506.7" stroke="#000" stroke-width="2"/>
<line x1="552.8" y1="512.2" x2="552.8" y2="501.2" stroke="#000" stroke-width="2"/>
<text x="553.4" y="553" font-size="34" text-anchor="middle">3.4</text>
<line x1="613.2" y1="512.2" x2="613.2" y2="506.7" stroke="#000" stroke-width="2"/>
<line x1="673.6" y1="512.2" x2="673.6" y2="501.2" stroke="#000" stroke-width="2"/>
<text x="674.2" y="553" font-size="34" text-anchor="middle">3.5</text>
<text x="239.0" y="595" font-size="31.3">Frequency (THz)</text>
<text transform="translate(29.1,427.2) rotate(-90)" font-size="31.1">Intensity (Normalized)</text>
<text transform="translate(0,33.3) scale(0.9,1)" font-size="39" font-weight="bold">a</text>
<line x1="101.3" y1="75.0" x2="157.9" y2="75.0" stroke="#ec0000" stroke-width="3.3" stroke-linecap="round"/>
<text x="169" y="85.5" font-size="31" class="si">a</text>
<text x="184.3" y="90.5" font-size="18.5">0</text>
<text x="197.1" y="84.9" font-size="23">=31.5μm</text>
<line x1="101.3" y1="107.0" x2="157.9" y2="107.0" stroke="#2b5c94" stroke-width="3.3" stroke-linecap="round"/>
<text x="169" y="115.8" font-size="31" class="si">a</text>
<text x="184.3" y="120.8" font-size="18.5">0</text>
<text x="197.1" y="115.2" font-size="23">=31μm</text>
<line x1="101.3" y1="138.9" x2="157.9" y2="138.9" stroke="#ffc000" stroke-width="3.3" stroke-linecap="round"/>
<text x="169" y="148.2" font-size="31" class="si">a</text>
<text x="184.3" y="153.2" font-size="18.5">0</text>
<text x="197.1" y="147.6" font-size="23">=30.5μm</text>
<line x1="101.3" y1="170.1" x2="157.9" y2="170.1" stroke="#32be68" stroke-width="3.3" stroke-linecap="round"/>
<text x="169" y="178.2" font-size="31" class="si">a</text>
<text x="184.3" y="183.2" font-size="18.5">0</text>
<text x="197.1" y="177.6" font-size="23">=30μm</text>
<text x="508.6" y="131.8" font-size="27.3">~560 A/cm</text>
<text x="638.8" y="122.0" font-size="17">-2</text>
<text x="508.6" y="290.7" font-size="27.3">~480 A/cm</text>
<text x="638.8" y="280.9" font-size="17">-2</text>
<text x="508.6" y="437.7" font-size="27.3">~380 A/cm</text>
<text x="638.8" y="427.9" font-size="17">-2</text>
<text x="113.3" y="418.8" font-size="23.2">Pulse-mode</text>
<text x="131.1" y="446.8" font-size="23.2">T= ~13K</text>
<polyline points="901.8,489.1 908.9,390.0 909.9,382.5 912.9,374.0 915.9,366.7 919.8,358.8 923.8,352.2 927.8,345.8 933.7,336.7 939.7,328.8 943.0,325.5 946.0,322.6 949.0,319.6 952.0,316.6 955.0,313.7 958.0,311.2 961.0,308.9 964.0,306.6 967.0,304.4 970.0,302.2 973.0,300.0 976.0,297.7 979.0,295.4 982.0,293.1 985.0,290.7 988.0,288.3 991.0,285.8 994.0,283.3 997.0,280.8 1000.0,278.2 1003.0,275.6 1006.0,273.0 1009.0,270.4 1012.0,267.8 1015.0,265.1 1018.0,262.4 1021.0,259.7 1024.0,256.9 1027.0,254.2 1030.0,251.4 1033.0,248.7 1036.0,245.9 1039.0,243.1 1042.0,240.4 1045.0,237.6 1048.0,234.9 1051.0,232.2 1054.0,229.4 1057.0,226.7 1060.0,224.0 1063.0,221.3 1066.0,218.6 1069.0,215.9 1072.0,213.3 1075.0,210.7 1078.0,208.1 1081.0,205.5 1084.0,203.0 1087.0,200.5 1090.0,198.1 1093.0,195.7 1096.0,193.4 1099.0,191.1 1102.0,188.9 1105.0,186.8 1108.0,184.8 1111.0,182.9 1114.0,181.1 1117.0,179.4 1120.0,177.7 1123.0,176.1 1126.0,174.6 1129.0,173.1 1132.0,171.7 1135.0,170.3 1138.0,169.0 1141.0,167.7 1144.0,166.5 1147.0,165.3 1150.0,164.2 1153.0,162.9 1156.0,161.7 1159.0,160.4 1162.0,159.3 1165.0,158.1 1168.0,157.0 1171.0,155.9 1174.0,154.9 1177.0,153.8 1180.0,152.8 1183.0,151.8 1186.0,150.8 1189.0,149.8 1192.0,148.8 1195.0,147.8 1198.0,146.8 1201.0,145.9 1204.0,144.9 1207.0,143.9 1210.0,143.0 1213.0,142.0 1216.0,141.1 1219.0,140.1 1222.0,139.1 1225.0,138.2 1228.0,137.2 1231.0,136.2 1234.0,135.3 1237.0,134.3 1240.0,133.3 1243.0,132.4 1246.0,131.4 1249.0,130.4 1252.0,129.5 1255.0,128.5 1258.0,127.5 1261.0,126.6 1264.0,125.5 1267.0,124.4 1270.0,123.4 1273.0,122.3 1276.0,121.3 1279.0,120.2 1282.0,119.2 1285.0,118.1 1288.0,117.1 1291.0,116.0 1294.0,115.0 1297.0,113.9 1300.0,112.9 1303.0,111.9 1306.0,111.0 1309.0,110.0 1312.0,109.1 1315.0,108.1 1318.0,107.1 1321.0,106.1 1324.0,104.9 1327.0,103.8 1330.0,102.6 1333.0,101.4 1336.0,100.3 1339.0,99.1 1342.0,98.0 1344.6,97.0" fill="none" stroke="#2b5c94" stroke-width="3.2" stroke-linejoin="round" stroke-linecap="round"/>
<polyline points="901.8,489.1 908.9,390.0 909.9,382.6 912.9,374.6 915.9,367.7 919.8,360.1 923.8,353.8 927.8,347.6 933.7,338.7 939.7,330.8 943.0,327.9 946.0,325.2 949.0,322.6 952.0,320.1 955.0,317.6 958.0,315.2 961.0,313.0 964.0,310.8 967.0,308.6 970.0,306.5 973.0,304.3 976.0,302.2 979.0,300.0 982.0,297.7 985.0,295.4 988.0,292.9 991.0,290.5 994.0,288.1 997.0,285.8 1000.0,283.5 1003.0,281.3 1006.0,279.2 1009.0,277.0 1012.0,274.7 1015.0,272.4 1018.0,270.1 1021.0,267.8 1024.0,265.4 1027.0,263.0 1030.0,260.5 1033.0,258.1 1036.0,255.6 1039.0,253.2 1042.0,250.7 1045.0,248.2 1048.0,245.7 1051.0,243.1 1054.0,240.3 1057.0,237.5 1060.0,234.6 1063.0,231.8 1066.0,229.1 1069.0,226.3 1072.0,223.6 1075.0,220.9 1078.0,218.2 1081.0,215.6 1084.0,213.0 1087.0,210.4 1090.0,207.9 1093.0,205.4 1096.0,203.0 1099.0,200.6 1102.0,198.4 1105.0,196.3 1108.0,194.3 1111.0,192.3 1114.0,190.4 1117.0,188.5 1120.0,186.6 1123.0,184.8 1126.0,183.0 1129.0,181.2 1132.0,179.5 1135.0,177.8 1138.0,176.2 1141.0,174.6 1144.0,173.0 1147.0,171.5 1150.0,170.0 1153.0,168.5 1156.0,167.1 1159.0,165.6 1162.0,164.2 1165.0,162.8 1168.0,161.5 1171.0,160.2 1174.0,158.9 1177.0,157.7 1180.0,156.5 1183.0,155.3 1186.0,154.1 1189.0,153.0 1192.0,151.9 1195.0,150.8 1198.0,149.8 1201.0,148.7 1204.0,147.6 1207.0,146.5 1210.0,145.5 1213.0,144.5 1216.0,143.4 1219.0,142.5 1222.0,141.5 1225.0,140.5 1228.0,139.6 1231.0,138.6 1234.0,137.7 1237.0,136.8 1240.0,135.9 1243.0,135.0 1246.0,134.2 1249.0,133.3 1252.0,132.5 1255.0,131.6 1258.0,130.8 1261.0,129.9 1264.0,129.0 1267.0,128.1 1270.0,127.2 1273.0,126.3 1276.0,125.4 1279.0,124.5 1282.0,123.7 1285.0,122.8 1288.0,122.0 1291.0,121.2 1294.0,120.4 1297.0,119.6 1300.0,118.8 1303.0,117.9 1306.0,116.9 1309.0,116.0 1312.0,115.1 1315.0,114.1 1318.0,113.2 1321.0,112.3 1324.0,111.6 1327.0,110.8 1330.0,110.1 1333.0,109.3 1336.0,108.5 1339.0,107.7 1342.0,106.9 1344.6,106.2" fill="none" stroke="#ec0000" stroke-width="3.2" stroke-linejoin="round" stroke-linecap="round"/>
<polyline points="901.8,489.1 908.9,390.0 909.9,382.5 912.9,374.0 915.9,366.7 919.8,358.8 923.8,352.2 927.8,345.8 933.7,336.8 939.7,328.8 943.0,325.6 946.0,322.7 949.0,319.7 952.0,316.7 955.0,313.8 958.0,311.3 961.0,309.0 964.0,306.7 967.0,304.5 970.0,302.3 973.0,300.1 976.0,297.9 979.0,295.6 982.0,293.3 985.0,290.9 988.0,288.5 991.0,286.0 994.0,283.5 997.0,281.0 1000.0,278.4 1003.0,275.9 1006.0,273.3 1009.0,270.7 1012.0,268.1 1015.0,265.5 1018.0,262.8 1021.0,260.1 1024.0,257.4 1027.0,254.7 1030.0,252.0 1033.0,249.3 1036.0,246.6 1039.0,243.8 1042.0,241.1 1045.0,238.3 1048.0,235.6 1051.0,232.9 1054.0,230.1 1057.0,227.4 1060.0,224.7 1063.0,222.0 1066.0,219.3 1069.0,216.6 1072.0,214.0 1075.0,211.4 1078.0,208.8 1081.0,206.2 1084.0,203.7 1087.0,201.2 1090.0,198.8 1093.0,196.4 1096.0,194.1 1099.0,191.8 1102.0,189.6 1105.0,187.5 1108.0,185.5 1111.0,183.5 1114.0,181.7 1117.0,179.9 1120.0,178.2 1123.0,176.6 1126.0,175.0 1129.0,173.5 1132.0,172.0 1135.0,170.6 1138.0,169.3 1141.0,167.9 1144.0,166.7 1147.0,165.4 1150.0,164.3 1153.0,163.0 1156.0,161.7 1159.0,160.5 1162.0,159.4 1165.0,158.2 1168.0,157.1 1171.0,156.0 1174.0,154.9 1177.0,153.9 1180.0,152.9 1183.0,151.8 1186.0,150.8 1189.0,149.8 1192.0,148.8 1195.0,147.9 1198.0,146.9 1201.0,145.9 1204.0,144.9 1207.0,144.0 1210.0,143.0 1213.0,142.1 1216.0,141.1 1219.0,140.1 1222.0,139.2 1225.0,138.2 1228.0,137.2 1231.0,136.3 1234.0,135.3 1237.0,134.3 1240.0,133.4 1243.0,132.4 1246.0,131.4 1249.0,130.5 1252.0,129.5 1255.0,128.5 1258.0,127.5 1261.0,126.6 1264.0,125.6 1267.0,124.6 1270.0,123.6 1273.0,122.7 1276.0,121.7 1279.0,120.7 1282.0,119.7 1285.0,118.8 1288.0,117.8 1291.0,116.8 1294.0,115.9 1297.0,115.0 1300.0,114.1 1303.0,113.1 1306.0,112.2 1309.0,111.2 1312.0,110.3 1315.0,109.3 1318.0,108.3 1321.0,107.3 1324.0,106.3 1327.0,105.2 1330.0,104.1 1333.0,103.1 1336.0,102.0 1339.0,100.9 1342.0,99.9 1344.6,99.0" fill="none" stroke="#ffc000" stroke-width="3.2" stroke-linejoin="round" stroke-linecap="round"/>
<polyline points="901.8,489.1 908.9,390.0 909.9,382.6 912.9,374.6 915.9,367.7 919.8,359.8 923.8,353.3 927.8,346.9 933.7,337.9 939.7,330.0 943.0,326.8 946.0,324.0 949.0,321.3 952.0,318.7 955.0,316.2 958.0,313.7 961.0,311.4 964.0,309.1 967.0,306.9 970.0,304.7 973.0,302.5 976.0,300.3 979.0,298.0 982.0,295.7 985.0,293.3 988.0,290.9 991.0,288.4 994.0,285.9 997.0,283.4 1000.0,280.8 1003.0,278.3 1006.0,275.7 1009.0,273.1 1012.0,270.5 1015.0,267.9 1018.0,265.2 1021.0,262.5 1024.0,259.8 1027.0,257.1 1030.0,254.4 1033.0,251.7 1036.0,249.0 1039.0,246.2 1042.0,243.5 1045.0,240.7 1048.0,238.0 1051.0,235.3 1054.0,232.5 1057.0,229.8 1060.0,227.1 1063.0,224.4 1066.0,221.7 1069.0,219.0 1072.0,216.4 1075.0,213.8 1078.0,211.2 1081.0,208.6 1084.0,206.1 1087.0,203.6 1090.0,201.2 1093.0,198.8 1096.0,196.5 1099.0,194.2 1102.0,192.0 1105.0,189.9 1108.0,187.9 1111.0,185.9 1114.0,184.0 1117.0,182.2 1120.0,180.4 1123.0,178.7 1126.0,177.0 1129.0,175.4 1132.0,173.9 1135.0,172.4 1138.0,171.0 1141.0,169.6 1144.0,168.2 1147.0,166.9 1150.0,165.7 1153.0,164.4 1156.0,163.1 1159.0,161.9 1162.0,160.7 1165.0,159.6 1168.0,158.5 1171.0,157.4 1174.0,156.3 1177.0,155.2 1180.0,154.2 1183.0,153.2 1186.0,152.2 1189.0,151.2 1192.0,150.2 1195.0,149.2 1198.0,148.2 1201.0,147.2 1204.0,146.2 1207.0,145.3 1210.0,144.3 1213.0,143.3 1216.0,142.4 1219.0,141.4 1222.0,140.4 1225.0,139.5 1228.0,138.5 1231.0,137.5 1234.0,136.5 1237.0,135.6 1240.0,134.6 1243.0,133.6 1246.0,132.7 1249.0,131.7 1252.0,130.7 1255.0,129.7 1258.0,128.8 1261.0,127.8 1264.0,126.7 1267.0,125.7 1270.0,124.6 1273.0,123.6 1276.0,122.6 1279.0,121.5 1282.0,120.5 1285.0,119.5 1288.0,118.4 1291.0,117.4 1294.0,116.4 1297.0,115.3 1300.0,114.3 1303.0,113.2 1306.0,112.1 1309.0,111.1 1312.0,110.0 1315.0,108.9 1318.0,107.8 1321.0,106.7 1324.0,105.4 1327.0,104.2 1330.0,103.0 1333.0,101.7 1336.0,100.5 1339.0,99.3 1342.0,98.0 1344.6,97.0" fill="none" stroke="#32be68" stroke-width="3.2" stroke-linejoin="round" stroke-linecap="round"/>
<polyline points="901.6,491.1 1150.5,491.1" fill="none" stroke="#2b5c94" stroke-width="3.2" stroke-linejoin="round" stroke-linecap="round"/>
<polyline points="901.6,489.0 1140.0,488.6 1151.7,488.4 1169.3,486.8 1186.9,486.9 1198.7,485.2 1210.4,482.5 1228.0,481.1 1245.6,478.4 1264.7,476.4 1276.4,474.9 1284.5,473.0 1291.8,474.5 1301.3,472.3 1314.5,471.1 1329.2,472.6 1344.6,471.8" fill="none" stroke="#32be68" stroke-width="3.2" stroke-linejoin="round" stroke-linecap="round"/>
<path d="M1150.90,486.80 C1153.75,486.38 1164.32,484.85 1168.00,484.30 C1171.68,483.75 1171.25,484.72 1173.00,483.50 C1174.75,482.28 1176.72,479.28 1178.50,477.00 C1180.28,474.72 1181.78,472.97 1183.70,469.80 C1185.62,466.63 1187.65,462.80 1190.00,458.00 C1192.35,453.20 1194.13,448.83 1197.80,441.00 C1201.47,433.17 1207.02,421.17 1212.00,411.00 C1216.98,400.83 1223.87,387.42 1227.70,380.00 C1231.53,372.58 1232.50,371.05 1235.00,366.50 C1237.50,361.95 1239.75,357.97 1242.70,352.70 C1245.65,347.43 1249.98,339.18 1252.70,334.90 C1255.42,330.62 1256.92,329.52 1259.00,327.00 C1261.08,324.48 1262.92,322.70 1265.20,319.80 C1267.48,316.90 1269.95,312.45 1272.70,309.60 C1275.45,306.75 1279.32,304.25 1281.70,302.70 C1284.08,301.15 1285.20,300.87 1287.00,300.30 C1288.80,299.73 1290.33,299.38 1292.50,299.30 C1294.67,299.22 1297.67,299.25 1300.00,299.80 C1302.33,300.35 1304.10,301.25 1306.50,302.60 C1308.90,303.95 1311.98,306.35 1314.40,307.90 C1316.82,309.45 1318.57,310.47 1321.00,311.90 C1323.43,313.33 1326.57,315.40 1329.00,316.50 C1331.43,317.60 1334.07,317.83 1335.60,318.50 C1337.13,319.17 1336.77,319.17 1338.20,320.50 C1339.63,321.83 1343.20,325.50 1344.20,326.50" fill="none" stroke="#ec0000" stroke-width="3.2" stroke-linejoin="round" stroke-linecap="round"/>
<path d="M1150.90,486.80 C1153.75,486.33 1164.32,484.70 1168.00,484.00 C1171.68,483.30 1171.33,483.77 1173.00,482.60 C1174.67,481.43 1176.17,479.35 1178.00,477.00 C1179.83,474.65 1182.00,472.33 1184.00,468.50 C1186.00,464.67 1187.93,458.75 1190.00,454.00 C1192.07,449.25 1193.23,447.33 1196.40,440.00 C1199.57,432.67 1204.73,419.92 1209.00,410.00 C1213.27,400.08 1217.70,389.72 1222.00,380.50 C1226.30,371.28 1231.02,362.53 1234.80,354.70 C1238.58,346.87 1241.47,339.32 1244.70,333.50 C1247.93,327.68 1250.68,325.10 1254.20,319.80 C1257.72,314.50 1261.88,306.87 1265.80,301.70 C1269.72,296.53 1274.58,292.17 1277.70,288.80 C1280.82,285.43 1282.18,283.60 1284.50,281.50 C1286.82,279.40 1289.05,277.63 1291.60,276.20 C1294.15,274.77 1297.32,274.12 1299.80,272.90 C1302.28,271.68 1304.07,269.85 1306.50,268.90 C1308.93,267.95 1311.98,267.32 1314.40,267.20 C1316.82,267.08 1318.57,267.25 1321.00,268.20 C1323.43,269.15 1326.35,270.47 1329.00,272.90 C1331.65,275.33 1334.37,279.28 1336.90,282.80 C1339.43,286.32 1342.98,292.13 1344.20,294.00" fill="none" stroke="#ffc000" stroke-width="3.2" stroke-linejoin="round" stroke-linecap="round"/>
<path d="M1150.90,486.80 C1152.42,486.53 1157.15,485.70 1160.00,485.20 C1162.85,484.70 1165.92,484.30 1168.00,483.80 C1170.08,483.30 1171.17,483.08 1172.50,482.20 C1173.83,481.32 1174.88,480.00 1176.00,478.50 C1177.12,477.00 1177.92,474.98 1179.20,473.20 C1180.48,471.42 1182.23,470.08 1183.70,467.80 C1185.17,465.52 1186.68,462.48 1188.00,459.50 C1189.32,456.52 1190.52,453.15 1191.60,449.90 C1192.68,446.65 1192.43,446.48 1194.50,440.00 C1196.57,433.52 1200.72,421.00 1204.00,411.00 C1207.28,401.00 1210.53,390.17 1214.20,380.00 C1217.87,369.83 1221.98,360.00 1226.00,350.00 C1230.02,340.00 1234.97,328.00 1238.30,320.00 C1241.63,312.00 1243.32,308.78 1246.00,302.00 C1248.68,295.22 1251.60,286.30 1254.40,279.30 C1257.20,272.30 1259.87,266.72 1262.80,260.00 C1265.73,253.28 1268.75,245.82 1272.00,239.00 C1275.25,232.18 1279.30,224.77 1282.30,219.10 C1285.30,213.43 1287.27,209.58 1290.00,205.00 C1292.73,200.42 1296.37,194.52 1298.70,191.60 C1301.03,188.68 1302.27,188.75 1304.00,187.50 C1305.73,186.25 1307.38,185.03 1309.10,184.10 C1310.82,183.17 1312.32,182.27 1314.30,181.90 C1316.28,181.53 1319.13,181.72 1321.00,181.90 C1322.87,182.08 1324.02,182.50 1325.50,183.00 C1326.98,183.50 1327.92,183.47 1329.90,184.90 C1331.88,186.33 1335.03,188.00 1337.40,191.60 C1339.77,195.20 1342.98,204.02 1344.10,206.50" fill="none" stroke="#2b5c94" stroke-width="3.2" stroke-linejoin="round" stroke-linecap="round"/>
<circle cx="1179.2" cy="473.2" r="5.3" fill="#2b5c94"/>
<circle cx="1254.4" cy="279.3" r="5.3" fill="#2b5c94"/>
<circle cx="1314.3" cy="181.9" r="5.3" fill="#2b5c94"/>
<polyline points="945.2,354.4 946.2,354.3 947.2,354.3 948.2,354.3 949.2,354.5 950.2,354.8 951.2,354.9 952.2,355.0 953.2,354.8 954.2,354.6 955.2,354.7 956.2,355.0 957.2,354.9 958.2,354.4 959.2,354.2 960.2,354.4 961.2,354.4 962.2,354.3 963.2,354.3 964.2,354.2 965.2,354.1 966.2,354.3 967.2,354.6 968.2,354.7 969.2,354.7 970.2,354.6 971.2,354.4 972.2,354.2 973.2,354.2 974.2,354.4 975.2,354.7 976.2,354.9 977.2,354.9 978.2,354.5 979.2,354.4 980.2,354.5 981.2,354.6 982.2,354.3 983.2,354.2 984.2,354.4 985.2,354.5 986.2,354.3 987.2,354.3 988.2,354.2 989.2,354.1 990.2,354.2 991.2,354.3 992.2,354.3 993.2,354.2 994.2,354.2 995.2,354.4 996.2,354.4 997.2,354.3 998.2,354.3 999.2,354.3 1000.2,354.3 1001.2,354.4 1002.2,354.5 1003.2,354.5 1004.2,354.4 1005.2,354.3 1006.2,354.6 1007.2,354.7 1008.2,354.5 1009.2,354.4 1010.2,354.4 1011.2,354.6 1012.2,354.6 1013.2,354.6 1014.2,354.6 1015.2,354.5 1016.2,354.4 1017.2,354.3 1018.2,354.2 1019.2,354.2 1020.2,354.3 1021.2,354.5 1022.2,354.6 1023.2,354.7 1024.2,354.7 1025.2,354.5 1026.2,354.3 1027.2,354.4 1028.2,354.5 1029.2,354.4 1030.2,354.4 1031.2,354.6 1032.2,354.8 1033.2,354.8 1034.2,354.7 1035.2,354.7 1036.2,354.9 1037.2,355.0 1038.2,354.9 1039.2,354.7 1040.2,354.6 1041.2,354.6 1042.2,354.5 1043.2,354.5 1044.2,354.5 1045.2,354.4 1046.2,354.3 1047.2,354.4 1048.2,354.2 1049.2,351.2 1050.2,341.5 1051.2,329.2 1052.2,316.8 1053.2,308.0 1053.4,307.8 1054.2,312.8 1055.2,325.5 1056.2,338.8 1057.2,350.1 1058.2,354.5 1059.2,354.8 1060.2,354.6 1061.2,354.4 1062.2,354.5 1063.2,354.5 1064.2,354.5 1065.2,354.5 1066.2,354.7 1067.2,354.7 1068.2,354.6 1069.2,354.7 1070.2,354.9 1071.2,355.1 1072.2,355.0 1073.2,354.6 1074.2,354.4 1075.2,354.3 1076.2,354.5 1077.2,354.6 1078.2,354.6 1079.2,354.4 1080.2,354.2 1081.2,354.4 1082.2,354.7 1083.2,354.8 1084.2,354.6 1085.2,354.5 1086.2,354.4 1087.2,354.3 1088.2,354.3 1089.2,354.4 1090.2,354.4 1091.2,354.2 1092.2,354.1 1093.2,354.4 1094.2,354.5 1095.2,354.4 1096.2,354.6 1097.2,354.6 1098.2,354.3 1099.2,354.3 1100.2,354.6 1101.2,354.7 1102.2,354.6 1103.2,354.5 1104.2,354.4 1105.2,354.5 1106.2,354.5 1107.2,354.4 1108.2,354.2 1109.2,354.1 1110.2,354.2 1111.2,354.4 1112.2,354.2 1113.2,354.2 1114.2,354.5 1115.2,354.8 1116.2,355.1 1117.2,355.1 1118.2,354.8 1119.2,354.5 1120.2,354.2 1121.2,354.2 1122.2,354.3 1123.2,354.3 1124.2,354.2 1125.2,354.2 1126.2,354.4 1127.2,354.6 1128.2,354.6 1129.2,354.5 1130.2,354.4" fill="none" stroke="#3d6ca8" stroke-width="1.15" stroke-linejoin="round"/>
<polyline points="945.2,402.4 946.2,402.4 947.2,402.1 948.2,402.0 949.2,402.0 950.2,402.0 951.2,401.9 952.2,402.0 953.2,402.2 954.2,402.1 955.2,401.7 956.2,401.6 957.2,401.7 958.2,402.0 959.2,402.0 960.2,401.9 961.2,401.8 962.2,401.9 963.2,402.1 964.2,402.0 965.2,402.0 966.2,402.0 967.2,401.9 968.2,401.8 969.2,401.8 970.2,401.9 971.2,402.0 972.2,402.0 973.2,401.9 974.2,402.0 975.2,402.0 976.2,401.8 977.2,401.9 978.2,402.0 979.2,401.9 980.2,401.7 981.2,401.7 982.2,401.6 983.2,401.5 984.2,401.5 985.2,401.7 986.2,402.0 987.2,402.1 988.2,402.2 989.2,402.3 990.2,402.2 991.2,402.1 992.2,402.0 993.2,402.2 994.2,402.6 995.2,402.7 996.2,402.4 997.2,402.3 998.2,402.2 999.2,402.2 1000.2,402.2 1001.2,402.1 1002.2,402.1 1003.2,402.1 1004.2,401.9 1005.2,401.7 1006.2,401.7 1007.2,401.7 1008.2,401.9 1009.2,401.9 1010.2,401.9 1011.2,401.9 1012.2,401.8 1013.2,401.7 1014.2,401.7 1015.2,401.8 1016.2,401.9 1017.2,401.9 1018.2,401.9 1019.2,402.0 1020.2,402.0 1021.2,402.1 1022.2,401.9 1023.2,401.7 1024.2,401.7 1025.2,401.6 1026.2,401.7 1027.2,401.8 1028.2,401.8 1029.2,401.9 1030.2,402.1 1031.2,402.3 1032.2,402.3 1033.2,402.4 1034.2,402.3 1035.2,402.0 1036.2,402.0 1037.2,402.1 1038.2,402.1 1039.2,402.0 1040.2,401.9 1041.2,401.7 1042.2,401.7 1043.2,401.7 1044.2,401.7 1045.2,402.0 1046.2,402.3 1047.2,402.2 1048.2,399.2 1049.2,389.3 1050.2,377.0 1051.2,364.5 1052.2,355.6 1052.4,355.2 1053.2,360.3 1054.2,373.2 1055.2,386.4 1056.2,397.3 1057.2,401.4 1058.2,401.9 1059.2,402.0 1060.2,402.1 1061.2,402.2 1062.2,402.0 1063.2,401.7 1064.2,401.6 1065.2,401.7 1066.2,401.8 1067.2,401.8 1068.2,401.7 1069.2,401.7 1070.2,401.7 1071.2,401.8 1072.2,401.9 1073.2,402.1 1074.2,402.2 1075.2,402.1 1076.2,402.1 1077.2,402.2 1078.2,402.3 1079.2,402.2 1080.2,402.3 1081.2,402.4 1082.2,402.3 1083.2,402.3 1084.2,402.1 1085.2,401.9 1086.2,401.8 1087.2,401.9 1088.2,402.0 1089.2,402.0 1090.2,402.0 1091.2,402.0 1092.2,401.8 1093.2,401.8 1094.2,402.0 1095.2,402.0 1096.2,402.0 1097.2,402.0 1098.2,402.0 1099.2,401.9 1100.2,401.6 1101.2,401.6 1102.2,401.9 1103.2,402.1 1104.2,401.9 1105.2,401.8 1106.2,401.7 1107.2,401.8 1108.2,401.7 1109.2,401.5 1110.2,401.5 1111.2,401.8 1112.2,402.0 1113.2,402.0 1114.2,402.1 1115.2,402.0 1116.2,401.8 1117.2,401.9 1118.2,402.0 1119.2,402.0 1120.2,402.0 1121.2,402.0 1122.2,401.9 1123.2,401.7 1124.2,401.7 1125.2,401.7 1126.2,401.8 1127.2,401.8 1128.2,401.8 1129.2,401.8 1130.2,401.7" fill="none" stroke="#3d6ca8" stroke-width="1.15" stroke-linejoin="round"/>
<polyline points="945.2,448.3 946.2,448.3 947.2,448.5 948.2,448.7 949.2,448.7 950.2,448.4 951.2,448.1 952.2,448.2 953.2,448.4 954.2,448.4 955.2,448.4 956.2,448.5 957.2,448.8 958.2,449.1 959.2,449.0 960.2,448.8 961.2,448.7 962.2,448.7 963.2,448.7 964.2,448.7 965.2,448.8 966.2,448.9 967.2,449.0 968.2,449.0 969.2,448.9 970.2,448.7 971.2,448.4 972.2,448.3 973.2,448.4 974.2,448.6 975.2,448.8 976.2,448.8 977.2,448.6 978.2,448.6 979.2,448.8 980.2,448.9 981.2,448.8 982.2,448.9 983.2,448.9 984.2,448.8 985.2,448.6 986.2,448.5 987.2,448.8 988.2,448.9 989.2,448.7 990.2,448.5 991.2,448.4 992.2,448.6 993.2,448.7 994.2,448.8 995.2,448.7 996.2,448.8 997.2,448.9 998.2,448.8 999.2,448.7 1000.2,448.8 1001.2,448.9 1002.2,448.7 1003.2,448.5 1004.2,448.5 1005.2,448.5 1006.2,448.4 1007.2,448.3 1008.2,448.5 1009.2,448.6 1010.2,448.6 1011.2,448.4 1012.2,448.3 1013.2,448.5 1014.2,448.7 1015.2,448.7 1016.2,448.6 1017.2,448.6 1018.2,448.7 1019.2,448.8 1020.2,448.8 1021.2,448.6 1022.2,448.3 1023.2,448.0 1024.2,448.0 1025.2,448.4 1026.2,448.7 1027.2,448.9 1028.2,448.9 1029.2,448.8 1030.2,448.7 1031.2,448.9 1032.2,448.9 1033.2,448.8 1034.2,448.7 1035.2,448.7 1036.2,448.7 1037.2,448.7 1038.2,448.5 1039.2,448.5 1040.2,448.7 1041.2,448.7 1042.2,448.7 1043.2,448.7 1044.2,448.7 1045.2,448.8 1046.2,448.7 1047.2,446.0 1048.2,436.3 1049.2,423.9 1050.2,411.2 1051.2,402.2 1051.4,401.9 1052.2,407.1 1053.2,419.9 1054.2,433.0 1055.2,444.2 1056.2,448.5 1057.2,448.5 1058.2,448.4 1059.2,448.4 1060.2,448.4 1061.2,448.4 1062.2,448.6 1063.2,448.9 1064.2,448.9 1065.2,448.8 1066.2,448.6 1067.2,448.5 1068.2,448.7 1069.2,448.7 1070.2,448.6 1071.2,448.6 1072.2,448.6 1073.2,448.5 1074.2,448.4 1075.2,448.4 1076.2,448.5 1077.2,448.7 1078.2,448.8 1079.2,448.8 1080.2,448.7 1081.2,448.8 1082.2,448.8 1083.2,448.7 1084.2,448.8 1085.2,448.8 1086.2,448.7 1087.2,448.6 1088.2,448.5 1089.2,448.3 1090.2,448.3 1091.2,448.4 1092.2,448.5 1093.2,448.7 1094.2,448.6 1095.2,448.1 1096.2,448.2 1097.2,448.5 1098.2,448.7 1099.2,448.8 1100.2,448.9 1101.2,449.0 1102.2,449.1 1103.2,449.1 1104.2,448.9 1105.2,448.7 1106.2,448.5 1107.2,448.5 1108.2,448.6 1109.2,449.0 1110.2,449.2 1111.2,448.9 1112.2,448.6 1113.2,448.6 1114.2,448.7 1115.2,448.8 1116.2,448.9 1117.2,448.7 1118.2,448.5 1119.2,448.6 1120.2,448.7 1121.2,448.7 1122.2,448.8 1123.2,448.6 1124.2,448.4 1125.2,448.4 1126.2,448.7 1127.2,448.9 1128.2,449.0 1129.2,448.8 1130.2,448.8" fill="none" stroke="#3d6ca8" stroke-width="1.15" stroke-linejoin="round"/>
<line x1="945" y1="457.8" x2="1130.8" y2="457.8" stroke="#222" stroke-width="1.2"/>
<line x1="945.6" y1="457.8" x2="945.6" y2="456.2" stroke="#222" stroke-width="1.2"/>
<line x1="1007.3" y1="457.8" x2="1007.3" y2="454.8" stroke="#222" stroke-width="1.2"/>
<line x1="1068.6" y1="457.8" x2="1068.6" y2="456.2" stroke="#222" stroke-width="1.2"/>
<line x1="1130.3" y1="457.8" x2="1130.3" y2="454.8" stroke="#222" stroke-width="1.2"/>
<text x="1008.6" y="478.2" font-size="18" text-anchor="middle">3.2</text>
<text x="1132.1" y="478.2" font-size="18" text-anchor="middle">3.4</text>
<text x="1069.8" y="345.0" font-size="23.6">560 A/cm</text>
<text x="1168.8" y="337.7" font-size="15.5">-2</text>
<text x="1069.8" y="393.0" font-size="23.6">480 A/cm</text>
<text x="1168.8" y="385.7" font-size="15.5">-2</text>
<text x="1069.8" y="443.7" font-size="23.6">380 A/cm</text>
<text x="1168.8" y="436.4" font-size="15.5">-2</text>
<path d="M856.8,36.8 H1385.2 V512.5 H856.8 Z" fill="none" stroke="#000" stroke-width="2.3"/>
<line x1="894.6" y1="512.5" x2="894.6" y2="502.0" stroke="#000" stroke-width="2"/>
<text x="894.9" y="553" font-size="34" text-anchor="middle">0</text>
<line x1="932.3" y1="512.5" x2="932.3" y2="507.0" stroke="#000" stroke-width="2"/>
<line x1="970.1" y1="512.5" x2="970.1" y2="502.0" stroke="#000" stroke-width="2"/>
<text x="970.4" y="553" font-size="34" text-anchor="middle">100</text>
<line x1="1007.8" y1="512.5" x2="1007.8" y2="507.0" stroke="#000" stroke-width="2"/>
<line x1="1045.6" y1="512.5" x2="1045.6" y2="502.0" stroke="#000" stroke-width="2"/>
<text x="1045.9" y="553" font-size="34" text-anchor="middle">200</text>
<line x1="1083.3" y1="512.5" x2="1083.3" y2="507.0" stroke="#000" stroke-width="2"/>
<line x1="1121.0" y1="512.5" x2="1121.0" y2="502.0" stroke="#000" stroke-width="2"/>
<text x="1121.3" y="553" font-size="34" text-anchor="middle">300</text>
<line x1="1158.8" y1="512.5" x2="1158.8" y2="507.0" stroke="#000" stroke-width="2"/>
<line x1="1196.5" y1="512.5" x2="1196.5" y2="502.0" stroke="#000" stroke-width="2"/>
<text x="1196.8" y="553" font-size="34" text-anchor="middle">400</text>
<line x1="1234.3" y1="512.5" x2="1234.3" y2="507.0" stroke="#000" stroke-width="2"/>
<line x1="1272.0" y1="512.5" x2="1272.0" y2="502.0" stroke="#000" stroke-width="2"/>
<text x="1272.3" y="553" font-size="34" text-anchor="middle">500</text>
<line x1="1309.8" y1="512.5" x2="1309.8" y2="507.0" stroke="#000" stroke-width="2"/>
<line x1="1347.5" y1="512.5" x2="1347.5" y2="502.0" stroke="#000" stroke-width="2"/>
<text x="1347.8" y="553" font-size="34" text-anchor="middle">600</text>
<line x1="856.8" y1="488.4" x2="867.3" y2="488.4" stroke="#000" stroke-width="2"/>
<text x="845.7" y="499.7" font-size="34" text-anchor="end">0</text>
<line x1="856.8" y1="440.8" x2="862.3" y2="440.8" stroke="#000" stroke-width="2"/>
<line x1="856.8" y1="393.2" x2="867.3" y2="393.2" stroke="#000" stroke-width="2"/>
<text x="845.7" y="404.5" font-size="34" text-anchor="end">4</text>
<line x1="856.8" y1="345.6" x2="862.3" y2="345.6" stroke="#000" stroke-width="2"/>
<line x1="856.8" y1="298.0" x2="867.3" y2="298.0" stroke="#000" stroke-width="2"/>
<text x="845.7" y="309.3" font-size="34" text-anchor="end">8</text>
<line x1="856.8" y1="250.5" x2="862.3" y2="250.5" stroke="#000" stroke-width="2"/>
<line x1="856.8" y1="202.9" x2="867.3" y2="202.9" stroke="#000" stroke-width="2"/>
<text x="845.7" y="214.2" font-size="34" text-anchor="end">12</text>
<line x1="856.8" y1="155.3" x2="862.3" y2="155.3" stroke="#000" stroke-width="2"/>
<line x1="856.8" y1="107.7" x2="867.3" y2="107.7" stroke="#000" stroke-width="2"/>
<text x="845.7" y="119.0" font-size="34" text-anchor="end">16</text>
<line x1="856.8" y1="60.1" x2="862.3" y2="60.1" stroke="#000" stroke-width="2"/>
<line x1="1385.2" y1="488.4" x2="1374.2" y2="488.4" stroke="#000" stroke-width="2"/>
<text x="1397.8" y="499.7" font-size="34">0</text>
<line x1="1385.2" y1="437.8" x2="1379.7" y2="437.8" stroke="#000" stroke-width="2"/>
<line x1="1385.2" y1="387.3" x2="1374.2" y2="387.3" stroke="#000" stroke-width="2"/>
<text x="1397.8" y="398.6" font-size="34">50</text>
<line x1="1385.2" y1="336.7" x2="1379.7" y2="336.7" stroke="#000" stroke-width="2"/>
<line x1="1385.2" y1="286.1" x2="1374.2" y2="286.1" stroke="#000" stroke-width="2"/>
<text x="1397.8" y="297.4" font-size="34">100</text>
<line x1="1385.2" y1="235.6" x2="1379.7" y2="235.6" stroke="#000" stroke-width="2"/>
<line x1="1385.2" y1="185.0" x2="1374.2" y2="185.0" stroke="#000" stroke-width="2"/>
<text x="1397.8" y="196.3" font-size="34">150</text>
<line x1="1385.2" y1="134.5" x2="1379.7" y2="134.5" stroke="#000" stroke-width="2"/>
<line x1="1385.2" y1="83.9" x2="1374.2" y2="83.9" stroke="#000" stroke-width="2"/>
<text x="1397.8" y="95.2" font-size="34">200</text>
<text x="943.5" y="594.8" font-size="31">Current Density (A/cm</text>
<text x="1247.5" y="585.9" font-size="20.5">2</text>
<text x="1261.6" y="595" font-size="31">)</text>
<text transform="translate(781.3,365.5) rotate(-90)" font-size="31.4">Voltage (V)</text>
<text transform="translate(1490.2,407.1) rotate(-90)" font-size="31">Peak Power (mW)</text>
<text x="753.6" y="33" font-size="39" font-weight="bold">b</text>
<line x1="883.9" y1="65.8" x2="941.1" y2="65.8" stroke="#ec0000" stroke-width="3.3" stroke-linecap="round"/>
<text x="955.3" y="74.0" font-size="23.5">m=0.16<tspan class="si" font-size="29.5" dx="-1">a</tspan></text>
<line x1="883.9" y1="97.5" x2="941.1" y2="97.5" stroke="#2b5c94" stroke-width="3.3" stroke-linecap="round"/>
<text x="955.3" y="107.0" font-size="23.5">m=0.18<tspan class="si" font-size="29.5" dx="-1">a</tspan></text>
<line x1="883.9" y1="129.0" x2="941.1" y2="129.0" stroke="#ffc000" stroke-width="3.3" stroke-linecap="round"/>
<text x="955.3" y="141.0" font-size="23.5">m=0.<tspan class="sr" font-size="24">2</tspan><tspan class="si" font-size="29.5" dx="-0.5">a</tspan></text>
<line x1="883.9" y1="161.0" x2="941.1" y2="161.0" stroke="#32be68" stroke-width="3.3" stroke-linecap="round"/>
<text x="955.3" y="169.0" font-size="23.5">m=0<tspan class="si" font-size="29.5" dx="-1">a</tspan></text>
</svg>
</body></html>
